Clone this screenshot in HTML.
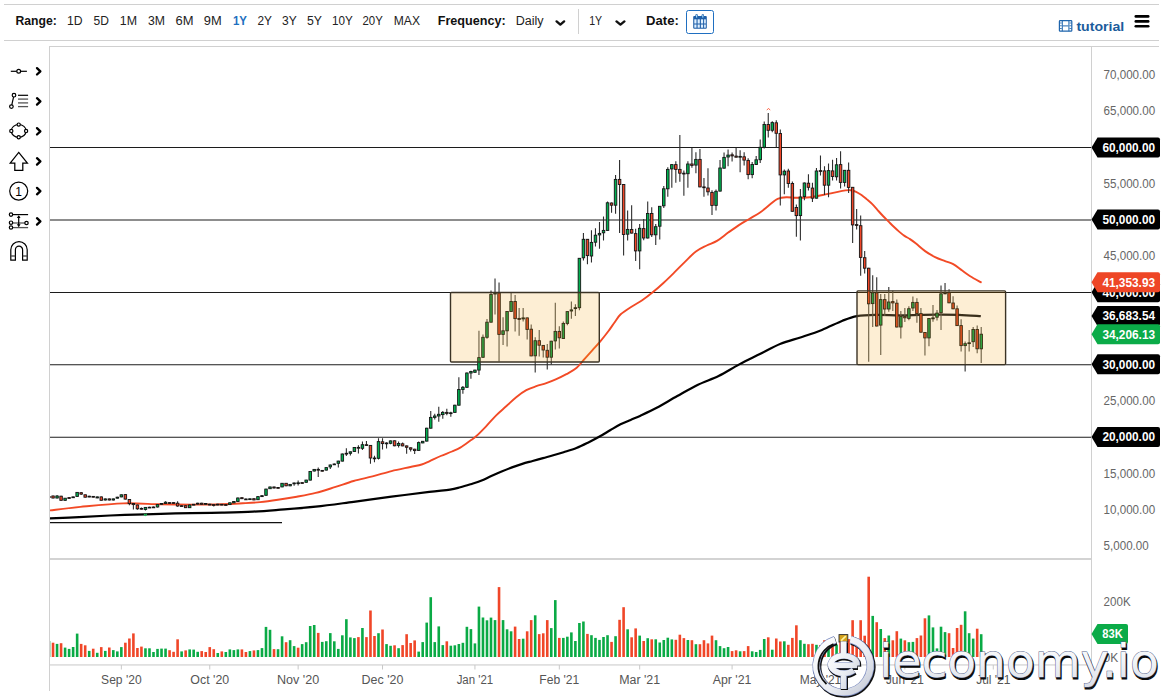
<!DOCTYPE html>
<html><head><meta charset="utf-8"><title>Chart</title>
<style>
html,body{margin:0;padding:0;background:#fff;}
body{width:1162px;height:698px;overflow:hidden;position:relative;font-family:"Liberation Sans",Arial,sans-serif;}
svg.main{position:absolute;left:0;top:0;display:block;}
svg text{font-family:"Liberation Sans",Arial,sans-serif;}
</style></head>
<body>
<svg class="main" width="1162" height="698" viewBox="0 0 1162 698">
<rect x="4" y="4" width="1155" height="1" fill="#d0d0d0"/>
<rect x="4" y="40" width="1155" height="1" fill="#d0d0d0"/>
<rect x="49" y="46" width="1110" height="1" fill="#d0d0d0"/>
<rect x="49" y="46" width="1" height="645" fill="#d0d0d0"/>
<rect x="1091" y="47" width="1" height="618" fill="#d0d0d0"/>
<rect x="50" y="558" width="1041" height="2" fill="#d3d3d3"/>
<rect x="50" y="664" width="1041" height="1.8" fill="#e0e0e0"/>
<text x="15.5" y="25" font-size="12.5" font-weight="bold" fill="#111" text-anchor="start" textLength="41.3" lengthAdjust="spacingAndGlyphs">Range:</text>
<text x="67" y="25" font-size="12.5" font-weight="normal" fill="#222" text-anchor="start" textLength="15.6" lengthAdjust="spacingAndGlyphs">1D</text>
<text x="93.6" y="25" font-size="12.5" font-weight="normal" fill="#222" text-anchor="start" textLength="15.4" lengthAdjust="spacingAndGlyphs">5D</text>
<text x="119.8" y="25" font-size="12.5" font-weight="normal" fill="#222" text-anchor="start" textLength="17.2" lengthAdjust="spacingAndGlyphs">1M</text>
<text x="148" y="25" font-size="12.5" font-weight="normal" fill="#222" text-anchor="start" textLength="17" lengthAdjust="spacingAndGlyphs">3M</text>
<text x="175.5" y="25" font-size="12.5" font-weight="normal" fill="#222" text-anchor="start" textLength="18" lengthAdjust="spacingAndGlyphs">6M</text>
<text x="203.8" y="25" font-size="12.5" font-weight="normal" fill="#222" text-anchor="start" textLength="17.9" lengthAdjust="spacingAndGlyphs">9M</text>
<text x="233" y="25" font-size="12.5" font-weight="bold" fill="#1e6fc0" text-anchor="start" textLength="14" lengthAdjust="spacingAndGlyphs">1Y</text>
<text x="257.5" y="25" font-size="12.5" font-weight="normal" fill="#222" text-anchor="start" textLength="14.5" lengthAdjust="spacingAndGlyphs">2Y</text>
<text x="282" y="25" font-size="12.5" font-weight="normal" fill="#222" text-anchor="start" textLength="14.7" lengthAdjust="spacingAndGlyphs">3Y</text>
<text x="307" y="25" font-size="12.5" font-weight="normal" fill="#222" text-anchor="start" textLength="15" lengthAdjust="spacingAndGlyphs">5Y</text>
<text x="332" y="25" font-size="12.5" font-weight="normal" fill="#222" text-anchor="start" textLength="20.8" lengthAdjust="spacingAndGlyphs">10Y</text>
<text x="362.5" y="25" font-size="12.5" font-weight="normal" fill="#222" text-anchor="start" textLength="20.3" lengthAdjust="spacingAndGlyphs">20Y</text>
<text x="393.8" y="25" font-size="12.5" font-weight="normal" fill="#222" text-anchor="start" textLength="26.2" lengthAdjust="spacingAndGlyphs">MAX</text>
<text x="437.7" y="25" font-size="12.5" font-weight="bold" fill="#111" text-anchor="start" textLength="68" lengthAdjust="spacingAndGlyphs">Frequency:</text>
<text x="515.7" y="25" font-size="12.5" font-weight="normal" fill="#222" text-anchor="start" textLength="27.9" lengthAdjust="spacingAndGlyphs">Daily</text>
<polyline points="556.6,21.4 560.35,24.6 564.1,21.4" fill="none" stroke="#111" stroke-width="2.4" stroke-linecap="round" stroke-linejoin="round"/>
<rect x="578" y="9" width="1" height="25" fill="#d0d0d0"/>
<text x="589.2" y="25" font-size="12.5" font-weight="normal" fill="#222" text-anchor="start" textLength="12.9" lengthAdjust="spacingAndGlyphs">1Y</text>
<polyline points="616.5,21.4 620.45,24.6 624.4,21.4" fill="none" stroke="#111" stroke-width="2.4" stroke-linecap="round" stroke-linejoin="round"/>
<text x="646" y="25" font-size="12.5" font-weight="bold" fill="#111" text-anchor="start" textLength="32.8" lengthAdjust="spacingAndGlyphs">Date:</text>
<rect x="686.5" y="10.5" width="27" height="23" rx="2" fill="#fff" stroke="#1f6fc1" stroke-width="1"/>
<g fill="#1f5fa8"><rect x="693.2" y="16" width="13.6" height="12.8" rx="1"/></g>
<g fill="#dff0ff"><rect x="694.3" y="19.3" width="2.2" height="4.2"/><rect x="697.6" y="19.3" width="2.2" height="4.2"/><rect x="700.9" y="19.3" width="2.2" height="4.2"/><rect x="704.1" y="19.3" width="1.7" height="4.2"/><rect x="694.3" y="24.5" width="2.2" height="3.2"/><rect x="697.6" y="24.5" width="2.2" height="3.2"/><rect x="700.9" y="24.5" width="2.2" height="3.2"/><rect x="704.1" y="24.5" width="1.7" height="3.2"/></g>
<g fill="#1f5fa8"><rect x="695.4" y="14.3" width="2.4" height="3.6" rx="0.8"/><rect x="701.6" y="14.3" width="2.4" height="3.6" rx="0.8"/></g>
<g fill="#9fd4f5"><rect x="696" y="15" width="1.2" height="2.6"/><rect x="702.2" y="15" width="1.2" height="2.6"/></g>
<rect x="1059.4" y="20.6" width="12.4" height="10.6" rx="0.8" fill="none" stroke="#1f65ad" stroke-width="1.2"/>
<g fill="#1f65ad"><rect x="1061.8" y="20.6" width="1" height="10.6"/><rect x="1068.4" y="20.6" width="1" height="10.6"/><rect x="1062.8" y="25.4" width="5.6" height="1"/></g>
<g fill="#1f65ad"><rect x="1059.6" y="22.6" width="2.2" height="0.8"/><rect x="1059.6" y="25.4" width="2.2" height="0.8"/><rect x="1059.6" y="28.2" width="2.2" height="0.8"/><rect x="1069.4" y="22.6" width="2.2" height="0.8"/><rect x="1069.4" y="25.4" width="2.2" height="0.8"/><rect x="1069.4" y="28.2" width="2.2" height="0.8"/></g>
<text x="1076.4" y="30.6" font-size="13.5" font-weight="bold" fill="#1b5c9c" text-anchor="start" textLength="47.9" lengthAdjust="spacingAndGlyphs">tutorial</text>
<g stroke="#000" stroke-width="2.6" stroke-linecap="round"><line x1="1135.8" y1="16.4" x2="1148.2" y2="16.4"/><line x1="1135.8" y1="21.4" x2="1148.2" y2="21.4"/><line x1="1135.8" y1="26.3" x2="1148.2" y2="26.3"/></g>
<g><line x1="10.8" y1="71.3" x2="26.9" y2="71.3" stroke="#000" stroke-width="1.2"/><circle cx="18.7" cy="71.3" r="1.9" fill="#fff" stroke="#000" stroke-width="1.2"/><polyline points="37,68.1 40.4,71.3 37,74.5" fill="none" stroke="#000" stroke-width="2.3" stroke-linecap="round" stroke-linejoin="round"/><line x1="14" y1="95.2" x2="11.4" y2="106.6" stroke="#000" stroke-width="1.2"/><circle cx="14" cy="95.2" r="1.8" fill="#fff" stroke="#000" stroke-width="1.2"/><circle cx="11.4" cy="106.6" r="1.8" fill="#fff" stroke="#000" stroke-width="1.2"/><line x1="18" y1="95.3" x2="28.1" y2="95.3" stroke="#000" stroke-width="1.2"/><g stroke="#555" stroke-width="1.3"><line x1="18" y1="99.1" x2="28.1" y2="99.1"/><line x1="18" y1="102.9" x2="28.1" y2="102.9"/><line x1="18" y1="106.6" x2="28.1" y2="106.6"/></g><polyline points="37,98.2 40.4,101.4 37,104.6" fill="none" stroke="#000" stroke-width="2.3" stroke-linecap="round" stroke-linejoin="round"/><ellipse cx="18.7" cy="130.9" rx="7.4" ry="6.4" fill="none" stroke="#000" stroke-width="1.2"/><circle cx="18.7" cy="124.6" r="1.6" fill="#fff" stroke="#000" stroke-width="1.2"/><circle cx="18.7" cy="137.3" r="1.6" fill="#fff" stroke="#000" stroke-width="1.2"/><circle cx="11.3" cy="130.9" r="1.6" fill="#fff" stroke="#000" stroke-width="1.2"/><circle cx="26.1" cy="130.9" r="1.6" fill="#fff" stroke="#000" stroke-width="1.2"/><polyline points="37,128.1 40.4,131.3 37,134.5" fill="none" stroke="#000" stroke-width="2.3" stroke-linecap="round" stroke-linejoin="round"/><polygon points="18.7,152.4 27.4,163.2 22.8,163.2 22.8,170.3 14.8,170.3 14.8,163.2 10.2,163.2" fill="#fff" stroke="#000" stroke-width="1.25" stroke-linejoin="miter"/><polyline points="37,158.2 40.4,161.4 37,164.6" fill="none" stroke="#000" stroke-width="2.3" stroke-linecap="round" stroke-linejoin="round"/><circle cx="18.7" cy="191.1" r="9" fill="#fff" stroke="#000" stroke-width="1.2"/><text x="18.7" y="195.6" font-size="12" font-weight="normal" fill="#000" text-anchor="middle">1</text><polyline points="37,187.9 40.4,191.1 37,194.3" fill="none" stroke="#000" stroke-width="2.3" stroke-linecap="round" stroke-linejoin="round"/><line x1="12.5" y1="214.6" x2="28.1" y2="214.6" stroke="#000" stroke-width="1.2"/><g stroke="#555" stroke-width="1.3"><line x1="12.5" y1="223" x2="25" y2="223"/><line x1="12.5" y1="227.6" x2="28.1" y2="227.6"/></g><line x1="18.7" y1="216" x2="18.7" y2="226.4" stroke="#000" stroke-width="1.2"/><polygon points="18.7,215.2 16.8,218 20.6,218" fill="#000"/><polygon points="18.7,227 16.8,224.2 20.6,224.2" fill="#000"/><circle cx="11" cy="214.6" r="1.7" fill="#fff" stroke="#000" stroke-width="1.2"/><circle cx="11" cy="222.7" r="1.7" fill="#fff" stroke="#000" stroke-width="1.2"/><circle cx="11" cy="227.5" r="1.7" fill="#fff" stroke="#000" stroke-width="1.2"/><circle cx="26.5" cy="223" r="1.7" fill="#fff" stroke="#000" stroke-width="1.2"/><polyline points="37,218.2 40.4,221.4 37,224.6" fill="none" stroke="#000" stroke-width="2.3" stroke-linecap="round" stroke-linejoin="round"/><path d="M10.8,260.2 L10.8,249.8 A8.2,8.2 0 0 1 27.2,249.8 L27.2,260.2 L22.6,260.2 L22.6,249.8 A3.6,3.6 0 0 0 15.4,249.8 L15.4,260.2 Z" fill="#fff" stroke="#000" stroke-width="1.2"/><g stroke="#444" stroke-width="1.3"><line x1="11" y1="256" x2="15.2" y2="256"/><line x1="22.8" y1="256" x2="27" y2="256"/></g></g>
<svg x="50" y="47" width="1041" height="511" viewBox="50 47 1041 511" overflow="hidden">
<line x1="50" y1="147.5" x2="1091" y2="147.5" stroke="#1c1c1c" stroke-width="1.05"/>
<line x1="50" y1="220.0" x2="1091" y2="220.0" stroke="#1c1c1c" stroke-width="1.05"/>
<line x1="50" y1="292.45" x2="1091" y2="292.45" stroke="#1c1c1c" stroke-width="1.05"/>
<line x1="50" y1="364.8" x2="1091" y2="364.8" stroke="#1c1c1c" stroke-width="1.05"/>
<line x1="50" y1="437.3" x2="1091" y2="437.3" stroke="#1c1c1c" stroke-width="1.05"/>
<line x1="50" y1="522.6" x2="282" y2="522.6" stroke="#111" stroke-width="1.2"/>
<path d="M50.1,518.4C54.92,518.18 69.02,517.58 79,517.1C88.98,516.62 99,515.97 110,515.5C121,515.03 135.33,514.62 145,514.3C154.67,513.98 160.33,513.78 168,513.6C175.67,513.42 182,513.37 191,513.2C200,513.03 211.67,512.87 222,512.6C232.33,512.33 243.67,512.05 253,511.6C262.33,511.15 267.55,510.72 278,509.9C288.45,509.08 303.1,508.05 315.7,506.7C328.3,505.35 340.97,503.47 353.6,501.8C366.23,500.13 378.88,498.35 391.5,496.7C404.12,495.05 419.55,493.07 429.3,491.9C439.05,490.73 444.83,490.47 450,489.7C455.17,488.93 456.85,488.22 460.3,487.3C463.75,486.38 467.25,485.28 470.7,484.2C474.15,483.12 477.57,482.17 481,480.8C484.43,479.43 487.87,477.55 491.3,476C494.73,474.45 498.15,472.93 501.6,471.5C505.05,470.07 508.55,468.67 512,467.4C515.45,466.13 518.87,464.97 522.3,463.9C525.73,462.83 529.15,461.97 532.6,461C536.05,460.03 539.55,459.05 543,458.1C546.45,457.15 549.87,456.28 553.3,455.3C556.73,454.32 559.75,453.42 563.6,452.2C567.45,450.98 572.27,449.63 576.4,448C580.53,446.37 584.38,444.4 588.4,442.4C592.42,440.4 596.82,438.07 600.5,436C604.18,433.93 607.17,431.95 610.5,430C613.83,428.05 617.15,425.98 620.5,424.3C623.85,422.62 627.35,421.3 630.6,419.9C633.85,418.5 635.65,417.92 640,415.9C644.35,413.88 650.48,411.12 656.7,407.8C662.92,404.48 670.42,399.85 677.3,396C684.18,392.15 691.12,388.03 698,384.7C704.88,381.37 711.72,379.38 718.6,376C725.48,372.62 732.42,368.05 739.3,364.4C746.18,360.75 753.02,357.53 759.9,354.1C766.78,350.67 773.72,346.62 780.6,343.8C787.48,340.98 794.32,339.52 801.2,337.2C808.08,334.88 815.02,332.65 821.9,329.9C828.78,327.15 836.65,323 842.5,320.7C848.35,318.4 851.42,317.07 857,316.1C862.58,315.13 868.83,315.03 876,314.9C883.17,314.77 892.67,315.3 900,315.3C907.33,315.3 913.87,315 920,314.9C926.13,314.8 930.35,314.7 936.8,314.7C943.25,314.7 951.37,314.65 958.7,314.9C966.03,315.15 977.12,315.98 980.8,316.2" fill="none" stroke="#000" stroke-width="2.2" stroke-linejoin="round" stroke-linecap="round"/>
<path d="M50.1,510.4C55.15,509.82 68.17,508.07 80.4,506.9C92.63,505.73 110.23,503.83 123.5,503.4C136.77,502.97 148.75,504.1 160,504.3C171.25,504.5 180.67,504.6 191,504.6C201.33,504.6 213.4,504.52 222,504.3C230.6,504.08 236.27,503.67 242.6,503.3C248.93,502.93 254.12,502.68 260,502.1C265.88,501.52 271.77,500.7 277.9,499.8C284.03,498.9 290.5,497.85 296.8,496.7C303.1,495.55 309.38,494.48 315.7,492.9C322.02,491.32 328.38,489.18 334.7,487.2C341.02,485.22 347.3,482.8 353.6,481C359.9,479.2 366.18,478.05 372.5,476.4C378.82,474.75 385.18,472.67 391.5,471.1C397.82,469.53 405.37,468.1 410.4,467C415.43,465.9 418.55,465.45 421.7,464.5C424.85,463.55 426.13,462.72 429.3,461.3C432.47,459.88 436.92,457.63 440.7,456C444.48,454.37 448.73,452.9 452,451.5C455.27,450.1 457.18,449.47 460.3,447.6C463.42,445.73 468.07,442.18 470.7,440.3C473.33,438.42 473.53,438.63 476.1,436.3C478.67,433.97 482.75,429.8 486.1,426.3C489.45,422.8 492.85,418.63 496.2,415.3C499.55,411.97 502.87,409.32 506.2,406.3C509.53,403.28 512.85,399.88 516.2,397.2C519.55,394.52 522.95,392.03 526.3,390.2C529.65,388.37 532.97,387.37 536.3,386.2C539.63,385.03 542.97,384.37 546.3,383.2C549.63,382.03 552.95,380.7 556.3,379.2C559.65,377.7 563.05,376.05 566.4,374.2C569.75,372.35 573.4,370.62 576.4,368.1C579.4,365.58 581.72,362.1 584.4,359.1C587.08,356.1 589.82,353.1 592.5,350.1C595.18,347.1 597.83,344.28 600.5,341.1C603.17,337.92 606.17,334.1 608.5,331C610.83,327.9 612.47,325.28 614.5,322.5C616.53,319.72 617.87,316.93 620.7,314.3C623.53,311.67 627.92,309.03 631.5,306.7C635.08,304.37 638.62,302.73 642.2,300.3C645.78,297.87 649.42,295.03 653,292.1C656.58,289.17 660.13,285.98 663.7,282.7C667.27,279.42 670.82,275.92 674.4,272.4C677.98,268.88 681.62,265.08 685.2,261.6C688.78,258.12 692.32,254.18 695.9,251.5C699.48,248.82 703.12,247.32 706.7,245.5C710.28,243.68 713.82,242.75 717.4,240.6C720.98,238.45 724.62,235.18 728.2,232.6C731.78,230.02 735.33,227.42 738.9,225.1C742.47,222.78 746.02,220.85 749.6,218.7C753.18,216.55 756.82,214.72 760.4,212.2C763.98,209.68 768.23,205.82 771.1,203.6C773.97,201.38 775.08,199.97 777.6,198.9C780.12,197.83 782.98,197.38 786.2,197.2C789.42,197.02 792.93,197.8 796.9,197.8C800.87,197.8 805.52,197.7 810,197.2C814.48,196.7 818.8,195.77 823.8,194.8C828.8,193.83 836.4,192.13 840,191.4C843.6,190.67 843.6,190.6 845.4,190.4C847.2,190.2 849.02,189.97 850.8,190.2C852.58,190.43 854.32,191 856.1,191.8C857.88,192.6 859.7,193.73 861.5,195C863.3,196.27 865.1,197.87 866.9,199.4C868.7,200.93 870.52,202.42 872.3,204.2C874.08,205.98 875.82,208.13 877.6,210.1C879.38,212.07 881.2,214.12 883,216C884.8,217.88 886.6,219.6 888.4,221.4C890.2,223.2 892.02,225.1 893.8,226.8C895.58,228.5 897.32,230.08 899.1,231.6C900.88,233.12 902.68,234.65 904.5,235.9C906.32,237.15 908.08,237.82 910,239.1C911.92,240.38 913.48,241.6 916,243.6C918.52,245.6 921.92,248.85 925.1,251.1C928.28,253.35 931.77,255.43 935.1,257.1C938.43,258.77 942.08,259.93 945.1,261.1C948.12,262.27 950.35,262.52 953.2,264.1C956.05,265.68 959.37,268.58 962.2,270.6C965.03,272.62 967.1,274.27 970.2,276.2C973.3,278.13 979.03,281.2 980.8,282.2" fill="none" stroke="#f24a26" stroke-width="1.9" stroke-linejoin="round" stroke-linecap="round"/>
<path d="M49.03,496V498.2M53.04,495.5V498.6M57.06,495V498.5M61.08,495.8V500.8M65.1,498V501M69.12,497V499M73.13,496.5V497.8M77.15,492V497M81.17,492V495M85.19,494.5V497.5M89.21,495.8V497.3M93.22,496V497.5M97.24,496.5V498.3M101.26,496.5V500.6M105.28,498.5V500.4M109.3,498.5V500.4M113.31,498.5V500.4M117.33,496.8V498.6M121.35,494.4V497.3M125.37,494.2V499.5M129.39,499.2V505.3M133.4,503.2V509.4M137.42,504.6V509.8M141.44,507.4V509.6M145.46,507V510.5M149.48,506.8V508.1M153.49,506.6V507.9M157.51,504.2V507.4M161.53,503.1V504.5M165.55,501.2V503.9M169.57,502.2V503.6M173.58,502.2V503.6M177.6,501.2V506.7M181.62,505.3V506.6M185.64,505.3V508.1M189.66,504.6V508.1M193.67,503.9V505.2M197.69,502.8V504.5M201.71,502.8V504.7M205.73,503.1V504.4M209.75,503.8V505.3M213.76,504.2V506.6M217.78,503.8V505.3M221.8,503.9V505.2M225.82,504.2V505.5M229.84,502.4V505M233.85,501.1V503.2M237.87,497.6V501.9M241.89,497.3V499.1M245.91,498.6V500M249.93,498.4V499.7M253.94,498.3V500.3M257.96,496.2V500.1M261.98,495.3V497M266,488.7V495.7M270.02,486.6V489.1M274.03,486.6V488.4M278.05,487.1V488.4M282.07,482.9V487.3M286.09,482.9V486.2M290.11,484V486.2M294.12,482.6V485.8M298.14,480.5V485.5M302.16,482.2V483.7M306.18,479.7V482.7M310.2,471.1V480.5M314.21,469V471.4M318.23,467.6V476.9M322.25,470V471.4M326.27,467.2V470.5M330.29,464.6V469M334.3,463.6V464.9M338.32,460.7V467.6M342.34,453.6V461.5M346.36,448.2V456.1M350.38,451.4V455.4M354.39,447.1V451.9M358.41,445.2V453.6M362.43,441.5V450.1M366.45,441.1V446.1M370.47,445V463.7M374.48,455.8V462.2M378.5,438.3V459.4M382.52,438.3V449.4M386.54,442.2V448.6M390.56,440.5V444.3M394.57,440.4V446.2M398.59,441.5V447.6M402.61,442.6V446.3M406.63,445.4V453.7M410.65,447.4V451.5M414.66,448.8V454M418.68,441.5V450.8M422.7,440.9V443.3M426.72,427.8V441.5M430.74,411V428.6M434.75,413.8V419.6M438.77,406.7V421.7M442.79,411V418.8M446.81,408.8V415.3M450.83,411.7V416.7M454.84,404.8V412.8M458.86,377.3V405.6M462.88,385.9V393.8M466.9,372.6V387.7M470.92,370.8V378.7M474.93,369.7V372.7M478.95,330.7V375.1M482.97,334.6V357.7M486.99,318.9V338.7M491.01,290.6V322.6M495.02,278.6V314.4M499.04,282.5V361.6M503.06,317.2V345.1M507.08,311.1V346.6M511.1,292.9V311.9M515.11,295V331.5M519.13,307.9V335.8M523.15,307.9V321.5M527.17,317.5V339.4M531.19,324.4V356.3M535.2,337.2V372.5M539.22,330.1V356.5M543.24,345V357.5M547.26,344.1V369.4M551.28,340.8V364.5M555.29,302.7V349.5M559.31,326.3V348.4M563.33,321.5V338.9M567.35,311.2V325.3M571.37,301.6V318.8M575.38,304.3V316.1M579.4,257.9V310.2M583.42,233.1V260.5M587.44,238.9V264.2M591.46,230.2V262.6M595.47,228.2V246.5M599.49,222V248.7M603.51,216.5V240.6M607.53,201.4V230.8M611.55,202.6V212.7M615.56,175.1V213.8M619.58,160V233.1M623.6,184.1V255.6M627.62,210.5V240.6M631.64,205.2V233.5M635.65,228.8V261M639.67,224V269.2M643.69,219.1V240.2M647.71,201.4V238.4M651.73,207.3V237M655.74,224V245M659.76,205.9V239.6M663.78,186.1V207.9M667.8,167.2V196.8M671.82,164.2V187.7M675.83,161.3V182.8M679.85,135V181.8M683.87,170.5V195.7M687.89,161.3V187.7M691.91,147.9V167.8M695.92,152.2V173.2M699.94,149V187.3M703.96,178V196.8M707.98,168.3V195.5M712,190.3V215M716.01,189.5V210.4M720.03,159.9V191.5M724.05,152.4V168.6M728.07,149.5V166.3M732.09,152.4V161.5M736.1,147.7V157.6M740.12,150.2V172.3M744.14,152.3V165.6M748.16,158.3V179.2M752.18,162V178.2M756.19,155.9V164.9M760.21,139.6V162.9M764.23,121.5V148.4M768.25,113.1V137.4M772.27,121.3V132.3M776.28,120.2V147.3M780.3,129.6V205.6M784.32,169.6V194.3M788.34,168.8V187.8M792.36,181.4V211.7M796.37,204.4V236.8M800.39,188.9V240.5M804.41,182.6V200.2M808.43,174.2V190.5M812.45,182.8V201.9M816.46,167.9V198.6M820.48,155.4V175.5M824.5,166.2V194.9M828.52,163.6V197.3M832.54,159.7V180.4M836.55,157.9V180.4M840.57,151.2V188.5M844.59,170V186.4M848.61,162.4V193.1M852.63,186.9V243.1M856.64,209V229.5M860.66,215.5V275.7M864.68,251V273.5M868.7,267.8V361.7M872.72,275.2V327M876.73,277.3V326.4M880.75,294V355M884.77,294V316M888.79,287V311.8M892.81,290.8V311M896.82,299.4V327.4M900.84,311V338.5M904.86,308V322M908.88,306.3V320.3M912.9,296.5V311M916.91,298.3V322.7M920.93,308.1V332.6M924.95,332.1V355.4M928.97,318.1V346.2M932.99,305V321.7M937,310.1V320.5M941.02,285.5V330.1M945.04,283.1V294.2M949.06,289.3V303.2M953.08,296.3V309.2M957.09,305.6V326M961.11,319.2V351.4M965.13,341.5V371.6M969.15,330.1V351.4M973.17,326.9V346.9M977.18,325.6V353.3M981.2,326.9V363" stroke="#2e2e2e" stroke-width="1.1" fill="none"/><g stroke="#141414" stroke-width="0.9"><rect x="47.78" y="496.6" width="2.5" height="0.8" fill="#f04628"/><rect x="51.79" y="496" width="2.5" height="2" fill="#f04628"/><rect x="55.81" y="496" width="2.5" height="2" fill="#00b050"/><rect x="59.83" y="496.2" width="2.5" height="4.1" fill="#f04628"/><rect x="63.85" y="498.2" width="2.5" height="2.1" fill="#00b050"/><rect x="67.87" y="497.6" width="2.5" height="0.8" fill="#f04628"/><rect x="71.88" y="496.9" width="2.5" height="0.8" fill="#00b050"/><rect x="75.9" y="492.4" width="2.5" height="4" fill="#00b050"/><rect x="79.92" y="492.7" width="2.5" height="1.4" fill="#f04628"/><rect x="83.94" y="494.8" width="2.5" height="2.4" fill="#f04628"/><rect x="87.96" y="496.2" width="2.5" height="0.8" fill="#00b050"/><rect x="91.97" y="496.4" width="2.5" height="0.8" fill="#f04628"/><rect x="95.99" y="496.9" width="2.5" height="1" fill="#00b050"/><rect x="100.01" y="496.9" width="2.5" height="3.4" fill="#f04628"/><rect x="104.03" y="498.9" width="2.5" height="1.1" fill="#00b050"/><rect x="108.05" y="498.9" width="2.5" height="1.1" fill="#f04628"/><rect x="112.06" y="498.9" width="2.5" height="1.1" fill="#00b050"/><rect x="116.08" y="497.2" width="2.5" height="1" fill="#00b050"/><rect x="120.1" y="494.8" width="2.5" height="2.1" fill="#00b050"/><rect x="124.12" y="494.6" width="2.5" height="4.5" fill="#f04628"/><rect x="128.14" y="499.5" width="2.5" height="4.1" fill="#f04628"/><rect x="132.15" y="503.5" width="2.5" height="1.1" fill="#f04628"/><rect x="136.17" y="505" width="2.5" height="3.8" fill="#f04628"/><rect x="140.19" y="508.4" width="2.5" height="0.8" fill="#f04628"/><rect x="144.21" y="507.4" width="2.5" height="2" fill="#00b050"/><rect x="148.23" y="507.2" width="2.5" height="0.8" fill="#00b050"/><rect x="152.24" y="507" width="2.5" height="0.8" fill="#00b050"/><rect x="156.26" y="504.6" width="2.5" height="2.4" fill="#00b050"/><rect x="160.28" y="503.5" width="2.5" height="0.8" fill="#00b050"/><rect x="164.3" y="502.2" width="2.5" height="1.3" fill="#00b050"/><rect x="168.32" y="502.6" width="2.5" height="0.8" fill="#f04628"/><rect x="172.33" y="502.6" width="2.5" height="0.8" fill="#f04628"/><rect x="176.35" y="503.2" width="2.5" height="2.8" fill="#f04628"/><rect x="180.37" y="505.7" width="2.5" height="0.8" fill="#f04628"/><rect x="184.39" y="505.7" width="2.5" height="2" fill="#f04628"/><rect x="188.41" y="505" width="2.5" height="2.7" fill="#00b050"/><rect x="192.42" y="504.3" width="2.5" height="0.8" fill="#00b050"/><rect x="196.44" y="503.2" width="2.5" height="0.9" fill="#00b050"/><rect x="200.46" y="503.2" width="2.5" height="1.1" fill="#f04628"/><rect x="204.48" y="503.5" width="2.5" height="0.8" fill="#00b050"/><rect x="208.5" y="504.2" width="2.5" height="0.8" fill="#f04628"/><rect x="212.51" y="504.6" width="2.5" height="0.8" fill="#f04628"/><rect x="216.53" y="504.2" width="2.5" height="0.8" fill="#00b050"/><rect x="220.55" y="504.3" width="2.5" height="0.8" fill="#f04628"/><rect x="224.57" y="504.6" width="2.5" height="0.8" fill="#f04628"/><rect x="228.59" y="502.8" width="2.5" height="1.8" fill="#00b050"/><rect x="232.6" y="501.5" width="2.5" height="1.3" fill="#00b050"/><rect x="236.62" y="498" width="2.5" height="3.5" fill="#00b050"/><rect x="240.64" y="497.7" width="2.5" height="1" fill="#f04628"/><rect x="244.66" y="499" width="2.5" height="0.8" fill="#f04628"/><rect x="248.68" y="498.8" width="2.5" height="0.8" fill="#00b050"/><rect x="252.69" y="498.7" width="2.5" height="1.2" fill="#f04628"/><rect x="256.71" y="496.6" width="2.5" height="3.1" fill="#00b050"/><rect x="260.73" y="495.7" width="2.5" height="0.9" fill="#00b050"/><rect x="264.75" y="489.1" width="2.5" height="6.2" fill="#00b050"/><rect x="268.77" y="487" width="2.5" height="1.7" fill="#00b050"/><rect x="272.78" y="487" width="2.5" height="1" fill="#f04628"/><rect x="276.8" y="487.5" width="2.5" height="0.8" fill="#f04628"/><rect x="280.82" y="483.3" width="2.5" height="3.6" fill="#00b050"/><rect x="284.84" y="483.3" width="2.5" height="2.5" fill="#f04628"/><rect x="288.86" y="484.4" width="2.5" height="1.4" fill="#00b050"/><rect x="292.87" y="483" width="2.5" height="0.8" fill="#00b050"/><rect x="296.89" y="482.8" width="2.5" height="0.8" fill="#00b050"/><rect x="300.91" y="482.6" width="2.5" height="0.8" fill="#f04628"/><rect x="304.93" y="480.1" width="2.5" height="2.2" fill="#00b050"/><rect x="308.95" y="471.5" width="2.5" height="8.6" fill="#00b050"/><rect x="312.96" y="469.4" width="2.5" height="1.6" fill="#00b050"/><rect x="316.98" y="469.4" width="2.5" height="0.8" fill="#f04628"/><rect x="321" y="470.4" width="2.5" height="0.8" fill="#f04628"/><rect x="325.02" y="467.6" width="2.5" height="2.5" fill="#00b050"/><rect x="329.04" y="465" width="2.5" height="1.9" fill="#00b050"/><rect x="333.05" y="464" width="2.5" height="0.8" fill="#00b050"/><rect x="337.07" y="461.1" width="2.5" height="2.2" fill="#00b050"/><rect x="341.09" y="454" width="2.5" height="7.1" fill="#00b050"/><rect x="345.11" y="453.3" width="2.5" height="0.8" fill="#f04628"/><rect x="349.13" y="451.8" width="2.5" height="1.5" fill="#00b050"/><rect x="353.14" y="447.5" width="2.5" height="4" fill="#00b050"/><rect x="357.16" y="447.4" width="2.5" height="0.8" fill="#f04628"/><rect x="361.18" y="444.7" width="2.5" height="3.6" fill="#00b050"/><rect x="365.2" y="444.7" width="2.5" height="0.8" fill="#f04628"/><rect x="369.22" y="445.4" width="2.5" height="12.6" fill="#f04628"/><rect x="373.23" y="458" width="2.5" height="0.8" fill="#00b050"/><rect x="377.25" y="441.6" width="2.5" height="16.7" fill="#00b050"/><rect x="381.27" y="441.8" width="2.5" height="1.8" fill="#f04628"/><rect x="385.29" y="443" width="2.5" height="0.8" fill="#00b050"/><rect x="389.31" y="440.9" width="2.5" height="2.4" fill="#00b050"/><rect x="393.32" y="440.8" width="2.5" height="5" fill="#f04628"/><rect x="397.34" y="443.5" width="2.5" height="1.9" fill="#00b050"/><rect x="401.36" y="443.8" width="2.5" height="2.1" fill="#f04628"/><rect x="405.38" y="445.9" width="2.5" height="1.4" fill="#f04628"/><rect x="409.4" y="447.8" width="2.5" height="1.4" fill="#f04628"/><rect x="413.41" y="449.2" width="2.5" height="1.4" fill="#f04628"/><rect x="417.43" y="442.6" width="2.5" height="7.8" fill="#00b050"/><rect x="421.45" y="441.3" width="2.5" height="1.6" fill="#00b050"/><rect x="425.47" y="428.2" width="2.5" height="12.9" fill="#00b050"/><rect x="429.49" y="417.4" width="2.5" height="10.8" fill="#00b050"/><rect x="433.5" y="416" width="2.5" height="1.4" fill="#00b050"/><rect x="437.52" y="414.3" width="2.5" height="1.7" fill="#00b050"/><rect x="441.54" y="412.4" width="2.5" height="2.2" fill="#00b050"/><rect x="445.56" y="412.4" width="2.5" height="1" fill="#f04628"/><rect x="449.58" y="412.8" width="2.5" height="0.8" fill="#00b050"/><rect x="453.59" y="405.2" width="2.5" height="7.2" fill="#00b050"/><rect x="457.61" y="389.5" width="2.5" height="15.7" fill="#00b050"/><rect x="461.63" y="387.3" width="2.5" height="2.2" fill="#00b050"/><rect x="465.65" y="373" width="2.5" height="14.3" fill="#00b050"/><rect x="469.67" y="371.5" width="2.5" height="1.5" fill="#00b050"/><rect x="473.68" y="370.1" width="2.5" height="2.2" fill="#00b050"/><rect x="477.7" y="357.6" width="2.5" height="12.5" fill="#00b050"/><rect x="481.72" y="337.3" width="2.5" height="20" fill="#00b050"/><rect x="485.74" y="322.2" width="2.5" height="15.1" fill="#00b050"/><rect x="489.76" y="294.4" width="2.5" height="27.8" fill="#00b050"/><rect x="493.77" y="292.9" width="2.5" height="1.1" fill="#00b050"/><rect x="497.79" y="292.9" width="2.5" height="41.5" fill="#f04628"/><rect x="501.81" y="330.8" width="2.5" height="3.6" fill="#00b050"/><rect x="505.83" y="311.5" width="2.5" height="19.3" fill="#00b050"/><rect x="509.85" y="301.5" width="2.5" height="10" fill="#00b050"/><rect x="513.86" y="301.5" width="2.5" height="17.1" fill="#f04628"/><rect x="517.88" y="318.4" width="2.5" height="1" fill="#f04628"/><rect x="521.9" y="317.9" width="2.5" height="1" fill="#00b050"/><rect x="525.92" y="317.9" width="2.5" height="11.5" fill="#f04628"/><rect x="529.94" y="329.2" width="2.5" height="26.7" fill="#f04628"/><rect x="533.95" y="340.7" width="2.5" height="15.1" fill="#00b050"/><rect x="537.97" y="340.7" width="2.5" height="4.5" fill="#f04628"/><rect x="541.99" y="345.4" width="2.5" height="4.6" fill="#f04628"/><rect x="546.01" y="350.3" width="2.5" height="6.9" fill="#f04628"/><rect x="550.03" y="341.2" width="2.5" height="16" fill="#00b050"/><rect x="554.04" y="331.4" width="2.5" height="9.5" fill="#00b050"/><rect x="558.06" y="331.4" width="2.5" height="6.4" fill="#f04628"/><rect x="562.08" y="323.4" width="2.5" height="15.1" fill="#00b050"/><rect x="566.1" y="311.6" width="2.5" height="11.8" fill="#00b050"/><rect x="570.12" y="309.9" width="2.5" height="1.1" fill="#00b050"/><rect x="574.13" y="307.7" width="2.5" height="0.9" fill="#00b050"/><rect x="578.15" y="258.3" width="2.5" height="49.4" fill="#00b050"/><rect x="582.17" y="239.3" width="2.5" height="18.5" fill="#00b050"/><rect x="586.19" y="239.3" width="2.5" height="16.3" fill="#f04628"/><rect x="590.21" y="242.4" width="2.5" height="13.6" fill="#00b050"/><rect x="594.22" y="235.2" width="2.5" height="7" fill="#00b050"/><rect x="598.24" y="233.4" width="2.5" height="1.5" fill="#00b050"/><rect x="602.26" y="230.4" width="2.5" height="2.4" fill="#00b050"/><rect x="606.28" y="202.8" width="2.5" height="27.6" fill="#00b050"/><rect x="610.3" y="203" width="2.5" height="2.2" fill="#f04628"/><rect x="614.31" y="179.4" width="2.5" height="25.8" fill="#00b050"/><rect x="618.33" y="179.4" width="2.5" height="5.1" fill="#f04628"/><rect x="622.35" y="184.5" width="2.5" height="50" fill="#f04628"/><rect x="626.37" y="229.4" width="2.5" height="4.8" fill="#00b050"/><rect x="630.39" y="229.5" width="2.5" height="3.6" fill="#f04628"/><rect x="634.4" y="233.6" width="2.5" height="17.3" fill="#f04628"/><rect x="638.42" y="228.3" width="2.5" height="22.6" fill="#00b050"/><rect x="642.44" y="228.6" width="2.5" height="9.4" fill="#f04628"/><rect x="646.46" y="213.5" width="2.5" height="24.5" fill="#00b050"/><rect x="650.48" y="213.5" width="2.5" height="21.3" fill="#f04628"/><rect x="654.49" y="226.7" width="2.5" height="8.1" fill="#00b050"/><rect x="658.51" y="206.3" width="2.5" height="19.9" fill="#00b050"/><rect x="662.53" y="188.8" width="2.5" height="17" fill="#00b050"/><rect x="666.55" y="169.4" width="2.5" height="19.4" fill="#00b050"/><rect x="670.57" y="164.6" width="2.5" height="4.3" fill="#00b050"/><rect x="674.58" y="164.6" width="2.5" height="4.8" fill="#f04628"/><rect x="678.6" y="169.4" width="2.5" height="3.8" fill="#f04628"/><rect x="682.62" y="173.2" width="2.5" height="0.8" fill="#f04628"/><rect x="686.64" y="164" width="2.5" height="9.7" fill="#00b050"/><rect x="690.66" y="164" width="2.5" height="1.4" fill="#f04628"/><rect x="694.67" y="159.4" width="2.5" height="5.7" fill="#00b050"/><rect x="698.69" y="159.4" width="2.5" height="27.5" fill="#f04628"/><rect x="702.71" y="186.9" width="2.5" height="0.8" fill="#f04628"/><rect x="706.73" y="188" width="2.5" height="3.8" fill="#f04628"/><rect x="710.75" y="192.4" width="2.5" height="13" fill="#f04628"/><rect x="714.76" y="191.3" width="2.5" height="14.1" fill="#00b050"/><rect x="718.78" y="168" width="2.5" height="23.1" fill="#00b050"/><rect x="722.8" y="157.4" width="2.5" height="10.8" fill="#00b050"/><rect x="726.82" y="155.1" width="2.5" height="1.9" fill="#00b050"/><rect x="730.84" y="154.8" width="2.5" height="1.1" fill="#f04628"/><rect x="734.85" y="156.1" width="2.5" height="1.1" fill="#f04628"/><rect x="738.87" y="156.4" width="2.5" height="0.8" fill="#00b050"/><rect x="742.89" y="156.8" width="2.5" height="3.3" fill="#f04628"/><rect x="746.91" y="160.4" width="2.5" height="14.2" fill="#f04628"/><rect x="750.93" y="164.5" width="2.5" height="10.1" fill="#00b050"/><rect x="754.94" y="159.8" width="2.5" height="4.7" fill="#00b050"/><rect x="758.96" y="147.3" width="2.5" height="12.4" fill="#00b050"/><rect x="762.98" y="124.5" width="2.5" height="22.8" fill="#00b050"/><rect x="767" y="124.5" width="2.5" height="5.8" fill="#f04628"/><rect x="771.02" y="122.6" width="2.5" height="7.7" fill="#00b050"/><rect x="775.03" y="122.8" width="2.5" height="10.5" fill="#f04628"/><rect x="779.05" y="133.5" width="2.5" height="41.4" fill="#f04628"/><rect x="783.07" y="171.2" width="2.5" height="3.7" fill="#00b050"/><rect x="787.09" y="171" width="2.5" height="12.5" fill="#f04628"/><rect x="791.11" y="183.5" width="2.5" height="27.8" fill="#f04628"/><rect x="795.12" y="207.5" width="2.5" height="8.1" fill="#f04628"/><rect x="799.14" y="197" width="2.5" height="18.6" fill="#00b050"/><rect x="803.16" y="183" width="2.5" height="13.5" fill="#00b050"/><rect x="807.18" y="183.2" width="2.5" height="4.1" fill="#f04628"/><rect x="811.2" y="188.1" width="2.5" height="10.1" fill="#f04628"/><rect x="815.21" y="171" width="2.5" height="27.2" fill="#00b050"/><rect x="819.23" y="170.6" width="2.5" height="0.8" fill="#f04628"/><rect x="823.25" y="170.9" width="2.5" height="14.3" fill="#f04628"/><rect x="827.27" y="170.6" width="2.5" height="14.6" fill="#00b050"/><rect x="831.29" y="170.9" width="2.5" height="5.6" fill="#f04628"/><rect x="835.3" y="164.8" width="2.5" height="12" fill="#00b050"/><rect x="839.32" y="164.6" width="2.5" height="17.8" fill="#f04628"/><rect x="843.34" y="170.3" width="2.5" height="12.1" fill="#00b050"/><rect x="847.36" y="170.3" width="2.5" height="17.1" fill="#f04628"/><rect x="851.38" y="187.3" width="2.5" height="37.6" fill="#f04628"/><rect x="855.39" y="224.6" width="2.5" height="0.8" fill="#f04628"/><rect x="859.41" y="225.7" width="2.5" height="31.7" fill="#f04628"/><rect x="863.43" y="257.7" width="2.5" height="10.5" fill="#f04628"/><rect x="867.45" y="268.2" width="2.5" height="35.6" fill="#f04628"/><rect x="871.47" y="292.9" width="2.5" height="10.7" fill="#00b050"/><rect x="875.48" y="292.9" width="2.5" height="33.1" fill="#f04628"/><rect x="879.5" y="299.6" width="2.5" height="25.5" fill="#00b050"/><rect x="883.52" y="299.6" width="2.5" height="9.4" fill="#f04628"/><rect x="887.54" y="302" width="2.5" height="7" fill="#00b050"/><rect x="891.56" y="301.6" width="2.5" height="1.3" fill="#f04628"/><rect x="895.57" y="303.2" width="2.5" height="23.8" fill="#f04628"/><rect x="899.59" y="316.6" width="2.5" height="10.4" fill="#00b050"/><rect x="903.61" y="316.6" width="2.5" height="1.2" fill="#f04628"/><rect x="907.63" y="308.7" width="2.5" height="9.7" fill="#00b050"/><rect x="911.65" y="302.4" width="2.5" height="5.6" fill="#00b050"/><rect x="915.66" y="302.4" width="2.5" height="11.2" fill="#f04628"/><rect x="919.68" y="313.6" width="2.5" height="18.6" fill="#f04628"/><rect x="923.7" y="332.5" width="2.5" height="5.4" fill="#f04628"/><rect x="927.72" y="318.5" width="2.5" height="19.4" fill="#00b050"/><rect x="931.74" y="317.9" width="2.5" height="0.9" fill="#00b050"/><rect x="935.75" y="313.1" width="2.5" height="4.1" fill="#00b050"/><rect x="939.77" y="293.8" width="2.5" height="18.9" fill="#00b050"/><rect x="943.79" y="293" width="2.5" height="0.8" fill="#00b050"/><rect x="947.81" y="292.7" width="2.5" height="10.1" fill="#f04628"/><rect x="951.83" y="303" width="2.5" height="5.8" fill="#f04628"/><rect x="955.84" y="308.8" width="2.5" height="16.8" fill="#f04628"/><rect x="959.86" y="325.6" width="2.5" height="20" fill="#f04628"/><rect x="963.88" y="343.7" width="2.5" height="1.9" fill="#00b050"/><rect x="967.9" y="342.8" width="2.5" height="0.8" fill="#00b050"/><rect x="971.92" y="329.5" width="2.5" height="12.2" fill="#00b050"/><rect x="975.93" y="329.5" width="2.5" height="19.3" fill="#f04628"/><rect x="979.95" y="334.2" width="2.5" height="14.6" fill="#00b050"/></g>
<path d="M143.9,513.4 L145.3,514.5 L146.8,513.2 L146.9,515.3 L145.4,516.3 L143.8,515.3 Z" fill="#1bb552"/>
<path d="M766.8,110.2 L768.5,108.3 L770.2,110.2" fill="none" stroke="#ff5a3a" stroke-width="0.9"/>
<defs><clipPath id="boxclip"><rect x="450.5" y="292.5" width="148.8" height="69.5"/><rect x="857.0" y="290.9" width="148.6" height="73.7"/></clipPath></defs>
<rect x="450.5" y="292.5" width="148.8" height="69.5" fill="#fdeed4"/>
<rect x="857.0" y="290.9" width="148.6" height="73.7" fill="#fdeed4"/>
<g clip-path="url(#boxclip)">
<line x1="50" y1="292.45" x2="1091" y2="292.45" stroke="#3c2c10" stroke-width="1.05"/>
<line x1="50" y1="364.8" x2="1091" y2="364.8" stroke="#3c2c10" stroke-width="1.05"/>
<path d="M50.1,518.4C54.92,518.18 69.02,517.58 79,517.1C88.98,516.62 99,515.97 110,515.5C121,515.03 135.33,514.62 145,514.3C154.67,513.98 160.33,513.78 168,513.6C175.67,513.42 182,513.37 191,513.2C200,513.03 211.67,512.87 222,512.6C232.33,512.33 243.67,512.05 253,511.6C262.33,511.15 267.55,510.72 278,509.9C288.45,509.08 303.1,508.05 315.7,506.7C328.3,505.35 340.97,503.47 353.6,501.8C366.23,500.13 378.88,498.35 391.5,496.7C404.12,495.05 419.55,493.07 429.3,491.9C439.05,490.73 444.83,490.47 450,489.7C455.17,488.93 456.85,488.22 460.3,487.3C463.75,486.38 467.25,485.28 470.7,484.2C474.15,483.12 477.57,482.17 481,480.8C484.43,479.43 487.87,477.55 491.3,476C494.73,474.45 498.15,472.93 501.6,471.5C505.05,470.07 508.55,468.67 512,467.4C515.45,466.13 518.87,464.97 522.3,463.9C525.73,462.83 529.15,461.97 532.6,461C536.05,460.03 539.55,459.05 543,458.1C546.45,457.15 549.87,456.28 553.3,455.3C556.73,454.32 559.75,453.42 563.6,452.2C567.45,450.98 572.27,449.63 576.4,448C580.53,446.37 584.38,444.4 588.4,442.4C592.42,440.4 596.82,438.07 600.5,436C604.18,433.93 607.17,431.95 610.5,430C613.83,428.05 617.15,425.98 620.5,424.3C623.85,422.62 627.35,421.3 630.6,419.9C633.85,418.5 635.65,417.92 640,415.9C644.35,413.88 650.48,411.12 656.7,407.8C662.92,404.48 670.42,399.85 677.3,396C684.18,392.15 691.12,388.03 698,384.7C704.88,381.37 711.72,379.38 718.6,376C725.48,372.62 732.42,368.05 739.3,364.4C746.18,360.75 753.02,357.53 759.9,354.1C766.78,350.67 773.72,346.62 780.6,343.8C787.48,340.98 794.32,339.52 801.2,337.2C808.08,334.88 815.02,332.65 821.9,329.9C828.78,327.15 836.65,323 842.5,320.7C848.35,318.4 851.42,317.07 857,316.1C862.58,315.13 868.83,315.03 876,314.9C883.17,314.77 892.67,315.3 900,315.3C907.33,315.3 913.87,315 920,314.9C926.13,314.8 930.35,314.7 936.8,314.7C943.25,314.7 951.37,314.65 958.7,314.9C966.03,315.15 977.12,315.98 980.8,316.2" fill="none" stroke="#3a2f1c" stroke-width="2.2"/>
<path d="M49.03,496V498.2M53.04,495.5V498.6M57.06,495V498.5M61.08,495.8V500.8M65.1,498V501M69.12,497V499M73.13,496.5V497.8M77.15,492V497M81.17,492V495M85.19,494.5V497.5M89.21,495.8V497.3M93.22,496V497.5M97.24,496.5V498.3M101.26,496.5V500.6M105.28,498.5V500.4M109.3,498.5V500.4M113.31,498.5V500.4M117.33,496.8V498.6M121.35,494.4V497.3M125.37,494.2V499.5M129.39,499.2V505.3M133.4,503.2V509.4M137.42,504.6V509.8M141.44,507.4V509.6M145.46,507V510.5M149.48,506.8V508.1M153.49,506.6V507.9M157.51,504.2V507.4M161.53,503.1V504.5M165.55,501.2V503.9M169.57,502.2V503.6M173.58,502.2V503.6M177.6,501.2V506.7M181.62,505.3V506.6M185.64,505.3V508.1M189.66,504.6V508.1M193.67,503.9V505.2M197.69,502.8V504.5M201.71,502.8V504.7M205.73,503.1V504.4M209.75,503.8V505.3M213.76,504.2V506.6M217.78,503.8V505.3M221.8,503.9V505.2M225.82,504.2V505.5M229.84,502.4V505M233.85,501.1V503.2M237.87,497.6V501.9M241.89,497.3V499.1M245.91,498.6V500M249.93,498.4V499.7M253.94,498.3V500.3M257.96,496.2V500.1M261.98,495.3V497M266,488.7V495.7M270.02,486.6V489.1M274.03,486.6V488.4M278.05,487.1V488.4M282.07,482.9V487.3M286.09,482.9V486.2M290.11,484V486.2M294.12,482.6V485.8M298.14,480.5V485.5M302.16,482.2V483.7M306.18,479.7V482.7M310.2,471.1V480.5M314.21,469V471.4M318.23,467.6V476.9M322.25,470V471.4M326.27,467.2V470.5M330.29,464.6V469M334.3,463.6V464.9M338.32,460.7V467.6M342.34,453.6V461.5M346.36,448.2V456.1M350.38,451.4V455.4M354.39,447.1V451.9M358.41,445.2V453.6M362.43,441.5V450.1M366.45,441.1V446.1M370.47,445V463.7M374.48,455.8V462.2M378.5,438.3V459.4M382.52,438.3V449.4M386.54,442.2V448.6M390.56,440.5V444.3M394.57,440.4V446.2M398.59,441.5V447.6M402.61,442.6V446.3M406.63,445.4V453.7M410.65,447.4V451.5M414.66,448.8V454M418.68,441.5V450.8M422.7,440.9V443.3M426.72,427.8V441.5M430.74,411V428.6M434.75,413.8V419.6M438.77,406.7V421.7M442.79,411V418.8M446.81,408.8V415.3M450.83,411.7V416.7M454.84,404.8V412.8M458.86,377.3V405.6M462.88,385.9V393.8M466.9,372.6V387.7M470.92,370.8V378.7M474.93,369.7V372.7M478.95,330.7V375.1M482.97,334.6V357.7M486.99,318.9V338.7M491.01,290.6V322.6M495.02,278.6V314.4M499.04,282.5V361.6M503.06,317.2V345.1M507.08,311.1V346.6M511.1,292.9V311.9M515.11,295V331.5M519.13,307.9V335.8M523.15,307.9V321.5M527.17,317.5V339.4M531.19,324.4V356.3M535.2,337.2V372.5M539.22,330.1V356.5M543.24,345V357.5M547.26,344.1V369.4M551.28,340.8V364.5M555.29,302.7V349.5M559.31,326.3V348.4M563.33,321.5V338.9M567.35,311.2V325.3M571.37,301.6V318.8M575.38,304.3V316.1M579.4,257.9V310.2M583.42,233.1V260.5M587.44,238.9V264.2M591.46,230.2V262.6M595.47,228.2V246.5M599.49,222V248.7M603.51,216.5V240.6M607.53,201.4V230.8M611.55,202.6V212.7M615.56,175.1V213.8M619.58,160V233.1M623.6,184.1V255.6M627.62,210.5V240.6M631.64,205.2V233.5M635.65,228.8V261M639.67,224V269.2M643.69,219.1V240.2M647.71,201.4V238.4M651.73,207.3V237M655.74,224V245M659.76,205.9V239.6M663.78,186.1V207.9M667.8,167.2V196.8M671.82,164.2V187.7M675.83,161.3V182.8M679.85,135V181.8M683.87,170.5V195.7M687.89,161.3V187.7M691.91,147.9V167.8M695.92,152.2V173.2M699.94,149V187.3M703.96,178V196.8M707.98,168.3V195.5M712,190.3V215M716.01,189.5V210.4M720.03,159.9V191.5M724.05,152.4V168.6M728.07,149.5V166.3M732.09,152.4V161.5M736.1,147.7V157.6M740.12,150.2V172.3M744.14,152.3V165.6M748.16,158.3V179.2M752.18,162V178.2M756.19,155.9V164.9M760.21,139.6V162.9M764.23,121.5V148.4M768.25,113.1V137.4M772.27,121.3V132.3M776.28,120.2V147.3M780.3,129.6V205.6M784.32,169.6V194.3M788.34,168.8V187.8M792.36,181.4V211.7M796.37,204.4V236.8M800.39,188.9V240.5M804.41,182.6V200.2M808.43,174.2V190.5M812.45,182.8V201.9M816.46,167.9V198.6M820.48,155.4V175.5M824.5,166.2V194.9M828.52,163.6V197.3M832.54,159.7V180.4M836.55,157.9V180.4M840.57,151.2V188.5M844.59,170V186.4M848.61,162.4V193.1M852.63,186.9V243.1M856.64,209V229.5M860.66,215.5V275.7M864.68,251V273.5M868.7,267.8V361.7M872.72,275.2V327M876.73,277.3V326.4M880.75,294V355M884.77,294V316M888.79,287V311.8M892.81,290.8V311M896.82,299.4V327.4M900.84,311V338.5M904.86,308V322M908.88,306.3V320.3M912.9,296.5V311M916.91,298.3V322.7M920.93,308.1V332.6M924.95,332.1V355.4M928.97,318.1V346.2M932.99,305V321.7M937,310.1V320.5M941.02,285.5V330.1M945.04,283.1V294.2M949.06,289.3V303.2M953.08,296.3V309.2M957.09,305.6V326M961.11,319.2V351.4M965.13,341.5V371.6M969.15,330.1V351.4M973.17,326.9V346.9M977.18,325.6V353.3M981.2,326.9V363" stroke="#6a5c40" stroke-width="1.1" fill="none"/><g stroke="#3a2e14" stroke-width="0.9"><rect x="47.78" y="496.6" width="2.5" height="0.8" fill="#e05422"/><rect x="51.79" y="496" width="2.5" height="2" fill="#e05422"/><rect x="55.81" y="496" width="2.5" height="2" fill="#34a040"/><rect x="59.83" y="496.2" width="2.5" height="4.1" fill="#e05422"/><rect x="63.85" y="498.2" width="2.5" height="2.1" fill="#34a040"/><rect x="67.87" y="497.6" width="2.5" height="0.8" fill="#e05422"/><rect x="71.88" y="496.9" width="2.5" height="0.8" fill="#34a040"/><rect x="75.9" y="492.4" width="2.5" height="4" fill="#34a040"/><rect x="79.92" y="492.7" width="2.5" height="1.4" fill="#e05422"/><rect x="83.94" y="494.8" width="2.5" height="2.4" fill="#e05422"/><rect x="87.96" y="496.2" width="2.5" height="0.8" fill="#34a040"/><rect x="91.97" y="496.4" width="2.5" height="0.8" fill="#e05422"/><rect x="95.99" y="496.9" width="2.5" height="1" fill="#34a040"/><rect x="100.01" y="496.9" width="2.5" height="3.4" fill="#e05422"/><rect x="104.03" y="498.9" width="2.5" height="1.1" fill="#34a040"/><rect x="108.05" y="498.9" width="2.5" height="1.1" fill="#e05422"/><rect x="112.06" y="498.9" width="2.5" height="1.1" fill="#34a040"/><rect x="116.08" y="497.2" width="2.5" height="1" fill="#34a040"/><rect x="120.1" y="494.8" width="2.5" height="2.1" fill="#34a040"/><rect x="124.12" y="494.6" width="2.5" height="4.5" fill="#e05422"/><rect x="128.14" y="499.5" width="2.5" height="4.1" fill="#e05422"/><rect x="132.15" y="503.5" width="2.5" height="1.1" fill="#e05422"/><rect x="136.17" y="505" width="2.5" height="3.8" fill="#e05422"/><rect x="140.19" y="508.4" width="2.5" height="0.8" fill="#e05422"/><rect x="144.21" y="507.4" width="2.5" height="2" fill="#34a040"/><rect x="148.23" y="507.2" width="2.5" height="0.8" fill="#34a040"/><rect x="152.24" y="507" width="2.5" height="0.8" fill="#34a040"/><rect x="156.26" y="504.6" width="2.5" height="2.4" fill="#34a040"/><rect x="160.28" y="503.5" width="2.5" height="0.8" fill="#34a040"/><rect x="164.3" y="502.2" width="2.5" height="1.3" fill="#34a040"/><rect x="168.32" y="502.6" width="2.5" height="0.8" fill="#e05422"/><rect x="172.33" y="502.6" width="2.5" height="0.8" fill="#e05422"/><rect x="176.35" y="503.2" width="2.5" height="2.8" fill="#e05422"/><rect x="180.37" y="505.7" width="2.5" height="0.8" fill="#e05422"/><rect x="184.39" y="505.7" width="2.5" height="2" fill="#e05422"/><rect x="188.41" y="505" width="2.5" height="2.7" fill="#34a040"/><rect x="192.42" y="504.3" width="2.5" height="0.8" fill="#34a040"/><rect x="196.44" y="503.2" width="2.5" height="0.9" fill="#34a040"/><rect x="200.46" y="503.2" width="2.5" height="1.1" fill="#e05422"/><rect x="204.48" y="503.5" width="2.5" height="0.8" fill="#34a040"/><rect x="208.5" y="504.2" width="2.5" height="0.8" fill="#e05422"/><rect x="212.51" y="504.6" width="2.5" height="0.8" fill="#e05422"/><rect x="216.53" y="504.2" width="2.5" height="0.8" fill="#34a040"/><rect x="220.55" y="504.3" width="2.5" height="0.8" fill="#e05422"/><rect x="224.57" y="504.6" width="2.5" height="0.8" fill="#e05422"/><rect x="228.59" y="502.8" width="2.5" height="1.8" fill="#34a040"/><rect x="232.6" y="501.5" width="2.5" height="1.3" fill="#34a040"/><rect x="236.62" y="498" width="2.5" height="3.5" fill="#34a040"/><rect x="240.64" y="497.7" width="2.5" height="1" fill="#e05422"/><rect x="244.66" y="499" width="2.5" height="0.8" fill="#e05422"/><rect x="248.68" y="498.8" width="2.5" height="0.8" fill="#34a040"/><rect x="252.69" y="498.7" width="2.5" height="1.2" fill="#e05422"/><rect x="256.71" y="496.6" width="2.5" height="3.1" fill="#34a040"/><rect x="260.73" y="495.7" width="2.5" height="0.9" fill="#34a040"/><rect x="264.75" y="489.1" width="2.5" height="6.2" fill="#34a040"/><rect x="268.77" y="487" width="2.5" height="1.7" fill="#34a040"/><rect x="272.78" y="487" width="2.5" height="1" fill="#e05422"/><rect x="276.8" y="487.5" width="2.5" height="0.8" fill="#e05422"/><rect x="280.82" y="483.3" width="2.5" height="3.6" fill="#34a040"/><rect x="284.84" y="483.3" width="2.5" height="2.5" fill="#e05422"/><rect x="288.86" y="484.4" width="2.5" height="1.4" fill="#34a040"/><rect x="292.87" y="483" width="2.5" height="0.8" fill="#34a040"/><rect x="296.89" y="482.8" width="2.5" height="0.8" fill="#34a040"/><rect x="300.91" y="482.6" width="2.5" height="0.8" fill="#e05422"/><rect x="304.93" y="480.1" width="2.5" height="2.2" fill="#34a040"/><rect x="308.95" y="471.5" width="2.5" height="8.6" fill="#34a040"/><rect x="312.96" y="469.4" width="2.5" height="1.6" fill="#34a040"/><rect x="316.98" y="469.4" width="2.5" height="0.8" fill="#e05422"/><rect x="321" y="470.4" width="2.5" height="0.8" fill="#e05422"/><rect x="325.02" y="467.6" width="2.5" height="2.5" fill="#34a040"/><rect x="329.04" y="465" width="2.5" height="1.9" fill="#34a040"/><rect x="333.05" y="464" width="2.5" height="0.8" fill="#34a040"/><rect x="337.07" y="461.1" width="2.5" height="2.2" fill="#34a040"/><rect x="341.09" y="454" width="2.5" height="7.1" fill="#34a040"/><rect x="345.11" y="453.3" width="2.5" height="0.8" fill="#e05422"/><rect x="349.13" y="451.8" width="2.5" height="1.5" fill="#34a040"/><rect x="353.14" y="447.5" width="2.5" height="4" fill="#34a040"/><rect x="357.16" y="447.4" width="2.5" height="0.8" fill="#e05422"/><rect x="361.18" y="444.7" width="2.5" height="3.6" fill="#34a040"/><rect x="365.2" y="444.7" width="2.5" height="0.8" fill="#e05422"/><rect x="369.22" y="445.4" width="2.5" height="12.6" fill="#e05422"/><rect x="373.23" y="458" width="2.5" height="0.8" fill="#34a040"/><rect x="377.25" y="441.6" width="2.5" height="16.7" fill="#34a040"/><rect x="381.27" y="441.8" width="2.5" height="1.8" fill="#e05422"/><rect x="385.29" y="443" width="2.5" height="0.8" fill="#34a040"/><rect x="389.31" y="440.9" width="2.5" height="2.4" fill="#34a040"/><rect x="393.32" y="440.8" width="2.5" height="5" fill="#e05422"/><rect x="397.34" y="443.5" width="2.5" height="1.9" fill="#34a040"/><rect x="401.36" y="443.8" width="2.5" height="2.1" fill="#e05422"/><rect x="405.38" y="445.9" width="2.5" height="1.4" fill="#e05422"/><rect x="409.4" y="447.8" width="2.5" height="1.4" fill="#e05422"/><rect x="413.41" y="449.2" width="2.5" height="1.4" fill="#e05422"/><rect x="417.43" y="442.6" width="2.5" height="7.8" fill="#34a040"/><rect x="421.45" y="441.3" width="2.5" height="1.6" fill="#34a040"/><rect x="425.47" y="428.2" width="2.5" height="12.9" fill="#34a040"/><rect x="429.49" y="417.4" width="2.5" height="10.8" fill="#34a040"/><rect x="433.5" y="416" width="2.5" height="1.4" fill="#34a040"/><rect x="437.52" y="414.3" width="2.5" height="1.7" fill="#34a040"/><rect x="441.54" y="412.4" width="2.5" height="2.2" fill="#34a040"/><rect x="445.56" y="412.4" width="2.5" height="1" fill="#e05422"/><rect x="449.58" y="412.8" width="2.5" height="0.8" fill="#34a040"/><rect x="453.59" y="405.2" width="2.5" height="7.2" fill="#34a040"/><rect x="457.61" y="389.5" width="2.5" height="15.7" fill="#34a040"/><rect x="461.63" y="387.3" width="2.5" height="2.2" fill="#34a040"/><rect x="465.65" y="373" width="2.5" height="14.3" fill="#34a040"/><rect x="469.67" y="371.5" width="2.5" height="1.5" fill="#34a040"/><rect x="473.68" y="370.1" width="2.5" height="2.2" fill="#34a040"/><rect x="477.7" y="357.6" width="2.5" height="12.5" fill="#34a040"/><rect x="481.72" y="337.3" width="2.5" height="20" fill="#34a040"/><rect x="485.74" y="322.2" width="2.5" height="15.1" fill="#34a040"/><rect x="489.76" y="294.4" width="2.5" height="27.8" fill="#34a040"/><rect x="493.77" y="292.9" width="2.5" height="1.1" fill="#34a040"/><rect x="497.79" y="292.9" width="2.5" height="41.5" fill="#e05422"/><rect x="501.81" y="330.8" width="2.5" height="3.6" fill="#34a040"/><rect x="505.83" y="311.5" width="2.5" height="19.3" fill="#34a040"/><rect x="509.85" y="301.5" width="2.5" height="10" fill="#34a040"/><rect x="513.86" y="301.5" width="2.5" height="17.1" fill="#e05422"/><rect x="517.88" y="318.4" width="2.5" height="1" fill="#e05422"/><rect x="521.9" y="317.9" width="2.5" height="1" fill="#34a040"/><rect x="525.92" y="317.9" width="2.5" height="11.5" fill="#e05422"/><rect x="529.94" y="329.2" width="2.5" height="26.7" fill="#e05422"/><rect x="533.95" y="340.7" width="2.5" height="15.1" fill="#34a040"/><rect x="537.97" y="340.7" width="2.5" height="4.5" fill="#e05422"/><rect x="541.99" y="345.4" width="2.5" height="4.6" fill="#e05422"/><rect x="546.01" y="350.3" width="2.5" height="6.9" fill="#e05422"/><rect x="550.03" y="341.2" width="2.5" height="16" fill="#34a040"/><rect x="554.04" y="331.4" width="2.5" height="9.5" fill="#34a040"/><rect x="558.06" y="331.4" width="2.5" height="6.4" fill="#e05422"/><rect x="562.08" y="323.4" width="2.5" height="15.1" fill="#34a040"/><rect x="566.1" y="311.6" width="2.5" height="11.8" fill="#34a040"/><rect x="570.12" y="309.9" width="2.5" height="1.1" fill="#34a040"/><rect x="574.13" y="307.7" width="2.5" height="0.9" fill="#34a040"/><rect x="578.15" y="258.3" width="2.5" height="49.4" fill="#34a040"/><rect x="582.17" y="239.3" width="2.5" height="18.5" fill="#34a040"/><rect x="586.19" y="239.3" width="2.5" height="16.3" fill="#e05422"/><rect x="590.21" y="242.4" width="2.5" height="13.6" fill="#34a040"/><rect x="594.22" y="235.2" width="2.5" height="7" fill="#34a040"/><rect x="598.24" y="233.4" width="2.5" height="1.5" fill="#34a040"/><rect x="602.26" y="230.4" width="2.5" height="2.4" fill="#34a040"/><rect x="606.28" y="202.8" width="2.5" height="27.6" fill="#34a040"/><rect x="610.3" y="203" width="2.5" height="2.2" fill="#e05422"/><rect x="614.31" y="179.4" width="2.5" height="25.8" fill="#34a040"/><rect x="618.33" y="179.4" width="2.5" height="5.1" fill="#e05422"/><rect x="622.35" y="184.5" width="2.5" height="50" fill="#e05422"/><rect x="626.37" y="229.4" width="2.5" height="4.8" fill="#34a040"/><rect x="630.39" y="229.5" width="2.5" height="3.6" fill="#e05422"/><rect x="634.4" y="233.6" width="2.5" height="17.3" fill="#e05422"/><rect x="638.42" y="228.3" width="2.5" height="22.6" fill="#34a040"/><rect x="642.44" y="228.6" width="2.5" height="9.4" fill="#e05422"/><rect x="646.46" y="213.5" width="2.5" height="24.5" fill="#34a040"/><rect x="650.48" y="213.5" width="2.5" height="21.3" fill="#e05422"/><rect x="654.49" y="226.7" width="2.5" height="8.1" fill="#34a040"/><rect x="658.51" y="206.3" width="2.5" height="19.9" fill="#34a040"/><rect x="662.53" y="188.8" width="2.5" height="17" fill="#34a040"/><rect x="666.55" y="169.4" width="2.5" height="19.4" fill="#34a040"/><rect x="670.57" y="164.6" width="2.5" height="4.3" fill="#34a040"/><rect x="674.58" y="164.6" width="2.5" height="4.8" fill="#e05422"/><rect x="678.6" y="169.4" width="2.5" height="3.8" fill="#e05422"/><rect x="682.62" y="173.2" width="2.5" height="0.8" fill="#e05422"/><rect x="686.64" y="164" width="2.5" height="9.7" fill="#34a040"/><rect x="690.66" y="164" width="2.5" height="1.4" fill="#e05422"/><rect x="694.67" y="159.4" width="2.5" height="5.7" fill="#34a040"/><rect x="698.69" y="159.4" width="2.5" height="27.5" fill="#e05422"/><rect x="702.71" y="186.9" width="2.5" height="0.8" fill="#e05422"/><rect x="706.73" y="188" width="2.5" height="3.8" fill="#e05422"/><rect x="710.75" y="192.4" width="2.5" height="13" fill="#e05422"/><rect x="714.76" y="191.3" width="2.5" height="14.1" fill="#34a040"/><rect x="718.78" y="168" width="2.5" height="23.1" fill="#34a040"/><rect x="722.8" y="157.4" width="2.5" height="10.8" fill="#34a040"/><rect x="726.82" y="155.1" width="2.5" height="1.9" fill="#34a040"/><rect x="730.84" y="154.8" width="2.5" height="1.1" fill="#e05422"/><rect x="734.85" y="156.1" width="2.5" height="1.1" fill="#e05422"/><rect x="738.87" y="156.4" width="2.5" height="0.8" fill="#34a040"/><rect x="742.89" y="156.8" width="2.5" height="3.3" fill="#e05422"/><rect x="746.91" y="160.4" width="2.5" height="14.2" fill="#e05422"/><rect x="750.93" y="164.5" width="2.5" height="10.1" fill="#34a040"/><rect x="754.94" y="159.8" width="2.5" height="4.7" fill="#34a040"/><rect x="758.96" y="147.3" width="2.5" height="12.4" fill="#34a040"/><rect x="762.98" y="124.5" width="2.5" height="22.8" fill="#34a040"/><rect x="767" y="124.5" width="2.5" height="5.8" fill="#e05422"/><rect x="771.02" y="122.6" width="2.5" height="7.7" fill="#34a040"/><rect x="775.03" y="122.8" width="2.5" height="10.5" fill="#e05422"/><rect x="779.05" y="133.5" width="2.5" height="41.4" fill="#e05422"/><rect x="783.07" y="171.2" width="2.5" height="3.7" fill="#34a040"/><rect x="787.09" y="171" width="2.5" height="12.5" fill="#e05422"/><rect x="791.11" y="183.5" width="2.5" height="27.8" fill="#e05422"/><rect x="795.12" y="207.5" width="2.5" height="8.1" fill="#e05422"/><rect x="799.14" y="197" width="2.5" height="18.6" fill="#34a040"/><rect x="803.16" y="183" width="2.5" height="13.5" fill="#34a040"/><rect x="807.18" y="183.2" width="2.5" height="4.1" fill="#e05422"/><rect x="811.2" y="188.1" width="2.5" height="10.1" fill="#e05422"/><rect x="815.21" y="171" width="2.5" height="27.2" fill="#34a040"/><rect x="819.23" y="170.6" width="2.5" height="0.8" fill="#e05422"/><rect x="823.25" y="170.9" width="2.5" height="14.3" fill="#e05422"/><rect x="827.27" y="170.6" width="2.5" height="14.6" fill="#34a040"/><rect x="831.29" y="170.9" width="2.5" height="5.6" fill="#e05422"/><rect x="835.3" y="164.8" width="2.5" height="12" fill="#34a040"/><rect x="839.32" y="164.6" width="2.5" height="17.8" fill="#e05422"/><rect x="843.34" y="170.3" width="2.5" height="12.1" fill="#34a040"/><rect x="847.36" y="170.3" width="2.5" height="17.1" fill="#e05422"/><rect x="851.38" y="187.3" width="2.5" height="37.6" fill="#e05422"/><rect x="855.39" y="224.6" width="2.5" height="0.8" fill="#e05422"/><rect x="859.41" y="225.7" width="2.5" height="31.7" fill="#e05422"/><rect x="863.43" y="257.7" width="2.5" height="10.5" fill="#e05422"/><rect x="867.45" y="268.2" width="2.5" height="35.6" fill="#e05422"/><rect x="871.47" y="292.9" width="2.5" height="10.7" fill="#34a040"/><rect x="875.48" y="292.9" width="2.5" height="33.1" fill="#e05422"/><rect x="879.5" y="299.6" width="2.5" height="25.5" fill="#34a040"/><rect x="883.52" y="299.6" width="2.5" height="9.4" fill="#e05422"/><rect x="887.54" y="302" width="2.5" height="7" fill="#34a040"/><rect x="891.56" y="301.6" width="2.5" height="1.3" fill="#e05422"/><rect x="895.57" y="303.2" width="2.5" height="23.8" fill="#e05422"/><rect x="899.59" y="316.6" width="2.5" height="10.4" fill="#34a040"/><rect x="903.61" y="316.6" width="2.5" height="1.2" fill="#e05422"/><rect x="907.63" y="308.7" width="2.5" height="9.7" fill="#34a040"/><rect x="911.65" y="302.4" width="2.5" height="5.6" fill="#34a040"/><rect x="915.66" y="302.4" width="2.5" height="11.2" fill="#e05422"/><rect x="919.68" y="313.6" width="2.5" height="18.6" fill="#e05422"/><rect x="923.7" y="332.5" width="2.5" height="5.4" fill="#e05422"/><rect x="927.72" y="318.5" width="2.5" height="19.4" fill="#34a040"/><rect x="931.74" y="317.9" width="2.5" height="0.9" fill="#34a040"/><rect x="935.75" y="313.1" width="2.5" height="4.1" fill="#34a040"/><rect x="939.77" y="293.8" width="2.5" height="18.9" fill="#34a040"/><rect x="943.79" y="293" width="2.5" height="0.8" fill="#34a040"/><rect x="947.81" y="292.7" width="2.5" height="10.1" fill="#e05422"/><rect x="951.83" y="303" width="2.5" height="5.8" fill="#e05422"/><rect x="955.84" y="308.8" width="2.5" height="16.8" fill="#e05422"/><rect x="959.86" y="325.6" width="2.5" height="20" fill="#e05422"/><rect x="963.88" y="343.7" width="2.5" height="1.9" fill="#34a040"/><rect x="967.9" y="342.8" width="2.5" height="0.8" fill="#34a040"/><rect x="971.92" y="329.5" width="2.5" height="12.2" fill="#34a040"/><rect x="975.93" y="329.5" width="2.5" height="19.3" fill="#e05422"/><rect x="979.95" y="334.2" width="2.5" height="14.6" fill="#34a040"/></g>
<path d="M50.1,510.4C55.15,509.82 68.17,508.07 80.4,506.9C92.63,505.73 110.23,503.83 123.5,503.4C136.77,502.97 148.75,504.1 160,504.3C171.25,504.5 180.67,504.6 191,504.6C201.33,504.6 213.4,504.52 222,504.3C230.6,504.08 236.27,503.67 242.6,503.3C248.93,502.93 254.12,502.68 260,502.1C265.88,501.52 271.77,500.7 277.9,499.8C284.03,498.9 290.5,497.85 296.8,496.7C303.1,495.55 309.38,494.48 315.7,492.9C322.02,491.32 328.38,489.18 334.7,487.2C341.02,485.22 347.3,482.8 353.6,481C359.9,479.2 366.18,478.05 372.5,476.4C378.82,474.75 385.18,472.67 391.5,471.1C397.82,469.53 405.37,468.1 410.4,467C415.43,465.9 418.55,465.45 421.7,464.5C424.85,463.55 426.13,462.72 429.3,461.3C432.47,459.88 436.92,457.63 440.7,456C444.48,454.37 448.73,452.9 452,451.5C455.27,450.1 457.18,449.47 460.3,447.6C463.42,445.73 468.07,442.18 470.7,440.3C473.33,438.42 473.53,438.63 476.1,436.3C478.67,433.97 482.75,429.8 486.1,426.3C489.45,422.8 492.85,418.63 496.2,415.3C499.55,411.97 502.87,409.32 506.2,406.3C509.53,403.28 512.85,399.88 516.2,397.2C519.55,394.52 522.95,392.03 526.3,390.2C529.65,388.37 532.97,387.37 536.3,386.2C539.63,385.03 542.97,384.37 546.3,383.2C549.63,382.03 552.95,380.7 556.3,379.2C559.65,377.7 563.05,376.05 566.4,374.2C569.75,372.35 573.4,370.62 576.4,368.1C579.4,365.58 581.72,362.1 584.4,359.1C587.08,356.1 589.82,353.1 592.5,350.1C595.18,347.1 597.83,344.28 600.5,341.1C603.17,337.92 606.17,334.1 608.5,331C610.83,327.9 612.47,325.28 614.5,322.5C616.53,319.72 617.87,316.93 620.7,314.3C623.53,311.67 627.92,309.03 631.5,306.7C635.08,304.37 638.62,302.73 642.2,300.3C645.78,297.87 649.42,295.03 653,292.1C656.58,289.17 660.13,285.98 663.7,282.7C667.27,279.42 670.82,275.92 674.4,272.4C677.98,268.88 681.62,265.08 685.2,261.6C688.78,258.12 692.32,254.18 695.9,251.5C699.48,248.82 703.12,247.32 706.7,245.5C710.28,243.68 713.82,242.75 717.4,240.6C720.98,238.45 724.62,235.18 728.2,232.6C731.78,230.02 735.33,227.42 738.9,225.1C742.47,222.78 746.02,220.85 749.6,218.7C753.18,216.55 756.82,214.72 760.4,212.2C763.98,209.68 768.23,205.82 771.1,203.6C773.97,201.38 775.08,199.97 777.6,198.9C780.12,197.83 782.98,197.38 786.2,197.2C789.42,197.02 792.93,197.8 796.9,197.8C800.87,197.8 805.52,197.7 810,197.2C814.48,196.7 818.8,195.77 823.8,194.8C828.8,193.83 836.4,192.13 840,191.4C843.6,190.67 843.6,190.6 845.4,190.4C847.2,190.2 849.02,189.97 850.8,190.2C852.58,190.43 854.32,191 856.1,191.8C857.88,192.6 859.7,193.73 861.5,195C863.3,196.27 865.1,197.87 866.9,199.4C868.7,200.93 870.52,202.42 872.3,204.2C874.08,205.98 875.82,208.13 877.6,210.1C879.38,212.07 881.2,214.12 883,216C884.8,217.88 886.6,219.6 888.4,221.4C890.2,223.2 892.02,225.1 893.8,226.8C895.58,228.5 897.32,230.08 899.1,231.6C900.88,233.12 902.68,234.65 904.5,235.9C906.32,237.15 908.08,237.82 910,239.1C911.92,240.38 913.48,241.6 916,243.6C918.52,245.6 921.92,248.85 925.1,251.1C928.28,253.35 931.77,255.43 935.1,257.1C938.43,258.77 942.08,259.93 945.1,261.1C948.12,262.27 950.35,262.52 953.2,264.1C956.05,265.68 959.37,268.58 962.2,270.6C965.03,272.62 967.1,274.27 970.2,276.2C973.3,278.13 979.03,281.2 980.8,282.2" fill="none" stroke="#f0601e" stroke-width="1.9"/>
</g>
<rect x="450.5" y="292.5" width="148.8" height="69.5" fill="none" stroke="#3b3325" stroke-width="1.4" rx="1"/>
<rect x="857.0" y="290.9" width="148.6" height="73.7" fill="none" stroke="#3b3325" stroke-width="1.4" rx="1"/>
</svg>
<svg x="50" y="560" width="1041" height="104" viewBox="50 560 1041 104" overflow="hidden"><rect x="47.73" y="641" width="2.6" height="16" fill="#0aaa45"/><rect x="51.74" y="642.7" width="2.6" height="14.3" fill="#f04628"/><rect x="55.76" y="643.9" width="2.6" height="13.1" fill="#0aaa45"/><rect x="59.78" y="643.2" width="2.6" height="13.8" fill="#f04628"/><rect x="63.8" y="647.6" width="2.6" height="9.4" fill="#0aaa45"/><rect x="67.82" y="648.9" width="2.6" height="8.1" fill="#0aaa45"/><rect x="71.83" y="647" width="2.6" height="10" fill="#0aaa45"/><rect x="75.85" y="633.6" width="2.6" height="23.4" fill="#0aaa45"/><rect x="79.87" y="643.9" width="2.6" height="13.1" fill="#f04628"/><rect x="83.89" y="645.3" width="2.6" height="11.7" fill="#f04628"/><rect x="87.91" y="650.9" width="2.6" height="6.1" fill="#0aaa45"/><rect x="91.92" y="648.7" width="2.6" height="8.3" fill="#f04628"/><rect x="95.94" y="652.8" width="2.6" height="4.2" fill="#0aaa45"/><rect x="99.96" y="647.1" width="2.6" height="9.9" fill="#f04628"/><rect x="103.98" y="650.9" width="2.6" height="6.1" fill="#0aaa45"/><rect x="108" y="647.5" width="2.6" height="9.5" fill="#f04628"/><rect x="112.01" y="650.1" width="2.6" height="6.9" fill="#0aaa45"/><rect x="116.03" y="651.4" width="2.6" height="5.6" fill="#0aaa45"/><rect x="120.05" y="647.1" width="2.6" height="9.9" fill="#0aaa45"/><rect x="124.07" y="642.7" width="2.6" height="14.3" fill="#f04628"/><rect x="128.09" y="638.5" width="2.6" height="18.5" fill="#f04628"/><rect x="132.1" y="633.4" width="2.6" height="23.6" fill="#f04628"/><rect x="136.12" y="648" width="2.6" height="9" fill="#f04628"/><rect x="140.14" y="646.6" width="2.6" height="10.4" fill="#f04628"/><rect x="144.16" y="648.3" width="2.6" height="8.7" fill="#0aaa45"/><rect x="148.18" y="648.3" width="2.6" height="8.7" fill="#0aaa45"/><rect x="152.19" y="652" width="2.6" height="5" fill="#0aaa45"/><rect x="156.21" y="648.9" width="2.6" height="8.1" fill="#0aaa45"/><rect x="160.23" y="648.6" width="2.6" height="8.4" fill="#0aaa45"/><rect x="164.25" y="648.6" width="2.6" height="8.4" fill="#0aaa45"/><rect x="168.27" y="650.2" width="2.6" height="6.8" fill="#f04628"/><rect x="172.28" y="651.8" width="2.6" height="5.2" fill="#f04628"/><rect x="176.3" y="639.3" width="2.6" height="17.7" fill="#f04628"/><rect x="180.32" y="651.4" width="2.6" height="5.6" fill="#0aaa45"/><rect x="184.34" y="650.4" width="2.6" height="6.6" fill="#f04628"/><rect x="188.36" y="649.4" width="2.6" height="7.6" fill="#0aaa45"/><rect x="192.37" y="649.6" width="2.6" height="7.4" fill="#0aaa45"/><rect x="196.39" y="651.8" width="2.6" height="5.2" fill="#0aaa45"/><rect x="200.41" y="651.1" width="2.6" height="5.9" fill="#f04628"/><rect x="204.43" y="652" width="2.6" height="5" fill="#f04628"/><rect x="208.45" y="647.1" width="2.6" height="9.9" fill="#f04628"/><rect x="212.46" y="649.2" width="2.6" height="7.8" fill="#f04628"/><rect x="216.48" y="653" width="2.6" height="4" fill="#0aaa45"/><rect x="220.5" y="651.4" width="2.6" height="5.6" fill="#f04628"/><rect x="224.52" y="652" width="2.6" height="5" fill="#0aaa45"/><rect x="228.54" y="649.4" width="2.6" height="7.6" fill="#0aaa45"/><rect x="232.55" y="650.1" width="2.6" height="6.9" fill="#0aaa45"/><rect x="236.57" y="649.4" width="2.6" height="7.6" fill="#0aaa45"/><rect x="240.59" y="649.4" width="2.6" height="7.6" fill="#f04628"/><rect x="244.61" y="652" width="2.6" height="5" fill="#f04628"/><rect x="248.63" y="651.1" width="2.6" height="5.9" fill="#0aaa45"/><rect x="252.64" y="650.4" width="2.6" height="6.6" fill="#f04628"/><rect x="256.66" y="650.1" width="2.6" height="6.9" fill="#0aaa45"/><rect x="260.68" y="648.1" width="2.6" height="8.9" fill="#0aaa45"/><rect x="264.7" y="626.9" width="2.6" height="30.1" fill="#0aaa45"/><rect x="268.72" y="629.8" width="2.6" height="27.2" fill="#0aaa45"/><rect x="272.73" y="649.1" width="2.6" height="7.9" fill="#f04628"/><rect x="276.75" y="649.2" width="2.6" height="7.8" fill="#0aaa45"/><rect x="280.77" y="636.3" width="2.6" height="20.7" fill="#0aaa45"/><rect x="284.79" y="642.2" width="2.6" height="14.8" fill="#f04628"/><rect x="288.81" y="640.2" width="2.6" height="16.8" fill="#0aaa45"/><rect x="292.82" y="646.1" width="2.6" height="10.9" fill="#0aaa45"/><rect x="296.84" y="647.7" width="2.6" height="9.3" fill="#f04628"/><rect x="300.86" y="644.1" width="2.6" height="12.9" fill="#0aaa45"/><rect x="304.88" y="642.2" width="2.6" height="14.8" fill="#0aaa45"/><rect x="308.9" y="626" width="2.6" height="31" fill="#0aaa45"/><rect x="312.91" y="625" width="2.6" height="32" fill="#0aaa45"/><rect x="316.93" y="632.9" width="2.6" height="24.1" fill="#f04628"/><rect x="320.95" y="641.9" width="2.6" height="15.1" fill="#0aaa45"/><rect x="324.97" y="641.2" width="2.6" height="15.8" fill="#0aaa45"/><rect x="328.99" y="633.1" width="2.6" height="23.9" fill="#0aaa45"/><rect x="333" y="641.3" width="2.6" height="15.7" fill="#0aaa45"/><rect x="337.02" y="648.9" width="2.6" height="8.1" fill="#0aaa45"/><rect x="341.04" y="635.3" width="2.6" height="21.7" fill="#0aaa45"/><rect x="345.06" y="619.2" width="2.6" height="37.8" fill="#0aaa45"/><rect x="349.08" y="637.4" width="2.6" height="19.6" fill="#0aaa45"/><rect x="353.09" y="638.1" width="2.6" height="18.9" fill="#0aaa45"/><rect x="357.11" y="637.1" width="2.6" height="19.9" fill="#f04628"/><rect x="361.13" y="628" width="2.6" height="29" fill="#0aaa45"/><rect x="365.15" y="637.1" width="2.6" height="19.9" fill="#f04628"/><rect x="369.17" y="610.5" width="2.6" height="46.5" fill="#f04628"/><rect x="373.18" y="636" width="2.6" height="21" fill="#f04628"/><rect x="377.2" y="633.2" width="2.6" height="23.8" fill="#0aaa45"/><rect x="381.22" y="629.5" width="2.6" height="27.5" fill="#f04628"/><rect x="385.24" y="644.1" width="2.6" height="12.9" fill="#0aaa45"/><rect x="389.26" y="645.8" width="2.6" height="11.2" fill="#0aaa45"/><rect x="393.27" y="645.3" width="2.6" height="11.7" fill="#f04628"/><rect x="397.29" y="648.2" width="2.6" height="8.8" fill="#0aaa45"/><rect x="401.31" y="645.1" width="2.6" height="11.9" fill="#f04628"/><rect x="405.33" y="634.2" width="2.6" height="22.8" fill="#f04628"/><rect x="409.35" y="643" width="2.6" height="14" fill="#f04628"/><rect x="413.36" y="640.4" width="2.6" height="16.6" fill="#f04628"/><rect x="417.38" y="651.6" width="2.6" height="5.4" fill="#0aaa45"/><rect x="421.4" y="642.1" width="2.6" height="14.9" fill="#0aaa45"/><rect x="425.42" y="622.6" width="2.6" height="34.4" fill="#0aaa45"/><rect x="429.44" y="597.2" width="2.6" height="59.8" fill="#0aaa45"/><rect x="433.45" y="642.1" width="2.6" height="14.9" fill="#0aaa45"/><rect x="437.47" y="626.4" width="2.6" height="30.6" fill="#0aaa45"/><rect x="441.49" y="645.1" width="2.6" height="11.9" fill="#0aaa45"/><rect x="445.51" y="641.3" width="2.6" height="15.7" fill="#f04628"/><rect x="449.53" y="645.7" width="2.6" height="11.3" fill="#0aaa45"/><rect x="453.54" y="645.3" width="2.6" height="11.7" fill="#0aaa45"/><rect x="457.56" y="644" width="2.6" height="13" fill="#0aaa45"/><rect x="461.58" y="642.8" width="2.6" height="14.2" fill="#0aaa45"/><rect x="465.6" y="626.8" width="2.6" height="30.2" fill="#0aaa45"/><rect x="469.62" y="629.1" width="2.6" height="27.9" fill="#0aaa45"/><rect x="473.63" y="643.4" width="2.6" height="13.6" fill="#0aaa45"/><rect x="477.65" y="606.6" width="2.6" height="50.4" fill="#0aaa45"/><rect x="481.67" y="617.5" width="2.6" height="39.5" fill="#0aaa45"/><rect x="485.69" y="620.3" width="2.6" height="36.7" fill="#0aaa45"/><rect x="489.71" y="617.6" width="2.6" height="39.4" fill="#0aaa45"/><rect x="493.72" y="620.1" width="2.6" height="36.9" fill="#0aaa45"/><rect x="497.74" y="587.1" width="2.6" height="69.9" fill="#f04628"/><rect x="501.76" y="620.1" width="2.6" height="36.9" fill="#0aaa45"/><rect x="505.78" y="629.3" width="2.6" height="27.7" fill="#0aaa45"/><rect x="509.8" y="631.3" width="2.6" height="25.7" fill="#0aaa45"/><rect x="513.81" y="626.6" width="2.6" height="30.4" fill="#f04628"/><rect x="517.83" y="639" width="2.6" height="18" fill="#f04628"/><rect x="521.85" y="638.7" width="2.6" height="18.3" fill="#0aaa45"/><rect x="525.87" y="631.3" width="2.6" height="25.7" fill="#f04628"/><rect x="529.89" y="620.1" width="2.6" height="36.9" fill="#f04628"/><rect x="533.9" y="615.3" width="2.6" height="41.7" fill="#0aaa45"/><rect x="537.92" y="634.1" width="2.6" height="22.9" fill="#f04628"/><rect x="541.94" y="633.3" width="2.6" height="23.7" fill="#f04628"/><rect x="545.96" y="620.1" width="2.6" height="36.9" fill="#f04628"/><rect x="549.98" y="628.1" width="2.6" height="28.9" fill="#0aaa45"/><rect x="553.99" y="600.1" width="2.6" height="56.9" fill="#0aaa45"/><rect x="558.01" y="637.9" width="2.6" height="19.1" fill="#f04628"/><rect x="562.03" y="637.9" width="2.6" height="19.1" fill="#0aaa45"/><rect x="566.05" y="636.7" width="2.6" height="20.3" fill="#0aaa45"/><rect x="570.07" y="632.4" width="2.6" height="24.6" fill="#0aaa45"/><rect x="574.08" y="641" width="2.6" height="16" fill="#0aaa45"/><rect x="578.1" y="623" width="2.6" height="34" fill="#0aaa45"/><rect x="582.12" y="621.5" width="2.6" height="35.5" fill="#0aaa45"/><rect x="586.14" y="633.9" width="2.6" height="23.1" fill="#f04628"/><rect x="590.16" y="635.2" width="2.6" height="21.8" fill="#0aaa45"/><rect x="594.17" y="637.9" width="2.6" height="19.1" fill="#0aaa45"/><rect x="598.19" y="639.9" width="2.6" height="17.1" fill="#0aaa45"/><rect x="602.21" y="637" width="2.6" height="20" fill="#0aaa45"/><rect x="606.23" y="635.2" width="2.6" height="21.8" fill="#0aaa45"/><rect x="610.25" y="641.9" width="2.6" height="15.1" fill="#f04628"/><rect x="614.26" y="636.2" width="2.6" height="20.8" fill="#0aaa45"/><rect x="618.28" y="619.8" width="2.6" height="37.2" fill="#f04628"/><rect x="622.3" y="607.2" width="2.6" height="49.8" fill="#f04628"/><rect x="626.32" y="629.3" width="2.6" height="27.7" fill="#0aaa45"/><rect x="630.34" y="637.3" width="2.6" height="19.7" fill="#f04628"/><rect x="634.35" y="628.4" width="2.6" height="28.6" fill="#f04628"/><rect x="638.37" y="635.6" width="2.6" height="21.4" fill="#0aaa45"/><rect x="642.39" y="641" width="2.6" height="16" fill="#f04628"/><rect x="646.41" y="638.2" width="2.6" height="18.8" fill="#0aaa45"/><rect x="650.43" y="639.3" width="2.6" height="17.7" fill="#f04628"/><rect x="654.44" y="639.3" width="2.6" height="17.7" fill="#0aaa45"/><rect x="658.46" y="642.5" width="2.6" height="14.5" fill="#0aaa45"/><rect x="662.48" y="640" width="2.6" height="17" fill="#0aaa45"/><rect x="666.5" y="637.7" width="2.6" height="19.3" fill="#0aaa45"/><rect x="670.52" y="639.4" width="2.6" height="17.6" fill="#0aaa45"/><rect x="674.53" y="639.8" width="2.6" height="17.2" fill="#f04628"/><rect x="678.55" y="634.7" width="2.6" height="22.3" fill="#f04628"/><rect x="682.57" y="638.1" width="2.6" height="18.9" fill="#f04628"/><rect x="686.59" y="640" width="2.6" height="17" fill="#0aaa45"/><rect x="690.61" y="640.2" width="2.6" height="16.8" fill="#f04628"/><rect x="694.62" y="644.2" width="2.6" height="12.8" fill="#0aaa45"/><rect x="698.64" y="644.2" width="2.6" height="12.8" fill="#f04628"/><rect x="702.66" y="640.2" width="2.6" height="16.8" fill="#f04628"/><rect x="706.68" y="643.4" width="2.6" height="13.6" fill="#f04628"/><rect x="710.7" y="635.6" width="2.6" height="21.4" fill="#f04628"/><rect x="714.71" y="640.2" width="2.6" height="16.8" fill="#0aaa45"/><rect x="718.73" y="646.1" width="2.6" height="10.9" fill="#0aaa45"/><rect x="722.75" y="648.2" width="2.6" height="8.8" fill="#0aaa45"/><rect x="726.77" y="647" width="2.6" height="10" fill="#0aaa45"/><rect x="730.79" y="651.1" width="2.6" height="5.9" fill="#f04628"/><rect x="734.8" y="650.3" width="2.6" height="6.7" fill="#f04628"/><rect x="738.82" y="651.3" width="2.6" height="5.7" fill="#0aaa45"/><rect x="742.84" y="651.1" width="2.6" height="5.9" fill="#f04628"/><rect x="746.86" y="646.1" width="2.6" height="10.9" fill="#f04628"/><rect x="750.88" y="651.3" width="2.6" height="5.7" fill="#0aaa45"/><rect x="754.89" y="652" width="2.6" height="5" fill="#0aaa45"/><rect x="758.91" y="649.9" width="2.6" height="7.1" fill="#0aaa45"/><rect x="762.93" y="639" width="2.6" height="18" fill="#0aaa45"/><rect x="766.95" y="637.3" width="2.6" height="19.7" fill="#f04628"/><rect x="770.97" y="649.7" width="2.6" height="7.3" fill="#0aaa45"/><rect x="774.98" y="638.5" width="2.6" height="18.5" fill="#f04628"/><rect x="779" y="641.5" width="2.6" height="15.5" fill="#f04628"/><rect x="783.02" y="641.3" width="2.6" height="15.7" fill="#0aaa45"/><rect x="787.04" y="644.8" width="2.6" height="12.2" fill="#f04628"/><rect x="791.06" y="637.9" width="2.6" height="19.1" fill="#f04628"/><rect x="795.07" y="625.3" width="2.6" height="31.7" fill="#f04628"/><rect x="799.09" y="640.2" width="2.6" height="16.8" fill="#0aaa45"/><rect x="803.11" y="643.8" width="2.6" height="13.2" fill="#0aaa45"/><rect x="807.13" y="644.2" width="2.6" height="12.8" fill="#f04628"/><rect x="811.15" y="643.8" width="2.6" height="13.2" fill="#f04628"/><rect x="815.16" y="644.8" width="2.6" height="12.2" fill="#0aaa45"/><rect x="819.18" y="645" width="2.6" height="12" fill="#f04628"/><rect x="823.2" y="640.2" width="2.6" height="16.8" fill="#f04628"/><rect x="827.22" y="648" width="2.6" height="9" fill="#0aaa45"/><rect x="831.24" y="646.4" width="2.6" height="10.6" fill="#f04628"/><rect x="835.25" y="644.7" width="2.6" height="12.3" fill="#0aaa45"/><rect x="839.27" y="642.1" width="2.6" height="14.9" fill="#f04628"/><rect x="843.29" y="642.5" width="2.6" height="14.5" fill="#0aaa45"/><rect x="847.31" y="639.1" width="2.6" height="17.9" fill="#f04628"/><rect x="851.33" y="620.2" width="2.6" height="36.8" fill="#f04628"/><rect x="855.34" y="646" width="2.6" height="11" fill="#f04628"/><rect x="859.36" y="620.2" width="2.6" height="36.8" fill="#f04628"/><rect x="863.38" y="635.7" width="2.6" height="21.3" fill="#f04628"/><rect x="867.4" y="576.7" width="2.6" height="80.3" fill="#f04628"/><rect x="871.42" y="615.9" width="2.6" height="41.1" fill="#0aaa45"/><rect x="875.43" y="622.2" width="2.6" height="34.8" fill="#f04628"/><rect x="879.45" y="629" width="2.6" height="28" fill="#0aaa45"/><rect x="883.47" y="638.1" width="2.6" height="18.9" fill="#f04628"/><rect x="887.49" y="635.5" width="2.6" height="21.5" fill="#0aaa45"/><rect x="891.51" y="640.3" width="2.6" height="16.7" fill="#f04628"/><rect x="895.52" y="631.2" width="2.6" height="25.8" fill="#f04628"/><rect x="899.54" y="638.6" width="2.6" height="18.4" fill="#0aaa45"/><rect x="903.56" y="640.3" width="2.6" height="16.7" fill="#f04628"/><rect x="907.58" y="642.2" width="2.6" height="14.8" fill="#0aaa45"/><rect x="911.6" y="641.9" width="2.6" height="15.1" fill="#0aaa45"/><rect x="915.61" y="638.1" width="2.6" height="18.9" fill="#f04628"/><rect x="919.63" y="635.5" width="2.6" height="21.5" fill="#f04628"/><rect x="923.65" y="618.3" width="2.6" height="38.7" fill="#f04628"/><rect x="927.67" y="615.4" width="2.6" height="41.6" fill="#0aaa45"/><rect x="931.69" y="627.4" width="2.6" height="29.6" fill="#0aaa45"/><rect x="935.7" y="648.4" width="2.6" height="8.6" fill="#0aaa45"/><rect x="939.72" y="626.7" width="2.6" height="30.3" fill="#0aaa45"/><rect x="943.74" y="632.1" width="2.6" height="24.9" fill="#0aaa45"/><rect x="947.76" y="633.2" width="2.6" height="23.8" fill="#f04628"/><rect x="951.78" y="648" width="2.6" height="9" fill="#f04628"/><rect x="955.79" y="628" width="2.6" height="29" fill="#f04628"/><rect x="959.81" y="624.8" width="2.6" height="32.2" fill="#f04628"/><rect x="963.83" y="611.3" width="2.6" height="45.7" fill="#0aaa45"/><rect x="967.85" y="633.2" width="2.6" height="23.8" fill="#0aaa45"/><rect x="971.87" y="638.6" width="2.6" height="18.4" fill="#0aaa45"/><rect x="975.88" y="628.7" width="2.6" height="28.3" fill="#f04628"/><rect x="979.9" y="634.2" width="2.6" height="22.8" fill="#0aaa45"/></svg>
<rect x="120.85" y="665" width="1" height="4.5" fill="#c8c8c8"/>
<text x="121.35" y="684.2" font-size="12" font-weight="normal" fill="#555" text-anchor="middle" textLength="40.5" lengthAdjust="spacingAndGlyphs">Sep '20</text>
<rect x="209.25" y="665" width="1" height="4.5" fill="#c8c8c8"/>
<text x="209.75" y="684.2" font-size="12" font-weight="normal" fill="#555" text-anchor="middle" textLength="38.8" lengthAdjust="spacingAndGlyphs">Oct '20</text>
<rect x="297.64" y="665" width="1" height="4.5" fill="#c8c8c8"/>
<text x="298.14" y="684.2" font-size="12" font-weight="normal" fill="#555" text-anchor="middle" textLength="42.3" lengthAdjust="spacingAndGlyphs">Nov '20</text>
<rect x="382.02" y="665" width="1" height="4.5" fill="#c8c8c8"/>
<text x="382.52" y="684.2" font-size="12" font-weight="normal" fill="#555" text-anchor="middle" textLength="41.8" lengthAdjust="spacingAndGlyphs">Dec '20</text>
<rect x="474.43" y="665" width="1" height="4.5" fill="#c8c8c8"/>
<text x="474.93" y="684.2" font-size="12" font-weight="normal" fill="#555" text-anchor="middle" textLength="36.6" lengthAdjust="spacingAndGlyphs">Jan '21</text>
<rect x="558.81" y="665" width="1" height="4.5" fill="#c8c8c8"/>
<text x="559.31" y="684.2" font-size="12" font-weight="normal" fill="#555" text-anchor="middle" textLength="40" lengthAdjust="spacingAndGlyphs">Feb '21</text>
<rect x="639.17" y="665" width="1" height="4.5" fill="#c8c8c8"/>
<text x="639.67" y="684.2" font-size="12" font-weight="normal" fill="#555" text-anchor="middle" textLength="40.9" lengthAdjust="spacingAndGlyphs">Mar '21</text>
<rect x="731.59" y="665" width="1" height="4.5" fill="#c8c8c8"/>
<text x="732.09" y="684.2" font-size="12" font-weight="normal" fill="#555" text-anchor="middle" textLength="38.7" lengthAdjust="spacingAndGlyphs">Apr '21</text>
<rect x="819.98" y="665" width="1" height="4.5" fill="#c8c8c8"/>
<text x="820.48" y="684.2" font-size="12" font-weight="normal" fill="#555" text-anchor="middle" textLength="41.5" lengthAdjust="spacingAndGlyphs">May '21</text>
<rect x="904.36" y="665" width="1" height="4.5" fill="#c8c8c8"/>
<text x="904.86" y="684.2" font-size="12" font-weight="normal" fill="#555" text-anchor="middle" textLength="37.8" lengthAdjust="spacingAndGlyphs">Jun '21</text>
<rect x="992.76" y="665" width="1" height="4.5" fill="#c8c8c8"/>
<text x="993.26" y="684.2" font-size="12" font-weight="normal" fill="#555" text-anchor="middle" textLength="34.1" lengthAdjust="spacingAndGlyphs">Jul '21</text>
<text x="1103.6" y="78.8" font-size="12" font-weight="normal" fill="#666" text-anchor="start" textLength="51.6" lengthAdjust="spacingAndGlyphs">70,000.00</text>
<text x="1103.6" y="115.05" font-size="12" font-weight="normal" fill="#666" text-anchor="start" textLength="51.6" lengthAdjust="spacingAndGlyphs">65,000.00</text>
<text x="1103.6" y="187.55" font-size="12" font-weight="normal" fill="#666" text-anchor="start" textLength="51.6" lengthAdjust="spacingAndGlyphs">55,000.00</text>
<text x="1103.6" y="260.05" font-size="12" font-weight="normal" fill="#666" text-anchor="start" textLength="51.6" lengthAdjust="spacingAndGlyphs">45,000.00</text>
<text x="1103.6" y="405.05" font-size="12" font-weight="normal" fill="#666" text-anchor="start" textLength="51.6" lengthAdjust="spacingAndGlyphs">25,000.00</text>
<text x="1103.6" y="477.55" font-size="12" font-weight="normal" fill="#666" text-anchor="start" textLength="51.6" lengthAdjust="spacingAndGlyphs">15,000.00</text>
<text x="1103.6" y="513.8" font-size="12" font-weight="normal" fill="#666" text-anchor="start" textLength="51.6" lengthAdjust="spacingAndGlyphs">10,000.00</text>
<text x="1103.6" y="550.05" font-size="12" font-weight="normal" fill="#666" text-anchor="start" textLength="45.1" lengthAdjust="spacingAndGlyphs">5,000.00</text>
<path d="M1091.5,147.5 L1097.5,137.5 L1158,137.5 Q1160,137.5 1160,139.5 L1160,155.5 Q1160,157.5 1158,157.5 L1097.5,157.5 Z" fill="#000"/><text x="1102.4" y="151.8" font-size="12.5" font-weight="bold" fill="#fff" text-anchor="start" textLength="52.7" lengthAdjust="spacingAndGlyphs">60,000.00</text>
<path d="M1091.5,219.6 L1097.5,209.6 L1158,209.6 Q1160,209.6 1160,211.6 L1160,227.6 Q1160,229.6 1158,229.6 L1097.5,229.6 Z" fill="#000"/><text x="1102.4" y="223.9" font-size="12.5" font-weight="bold" fill="#fff" text-anchor="start" textLength="52.7" lengthAdjust="spacingAndGlyphs">50,000.00</text>
<path d="M1091.5,292.3 L1097.5,282.3 L1158,282.3 Q1160,282.3 1160,284.3 L1160,300.3 Q1160,302.3 1158,302.3 L1097.5,302.3 Z" fill="#000"/><text x="1102.4" y="296.6" font-size="12.5" font-weight="bold" fill="#fff" text-anchor="start" textLength="52.7" lengthAdjust="spacingAndGlyphs">40,000.00</text>
<path d="M1091.5,282.3 L1097.5,272.3 L1158,272.3 Q1160,272.3 1160,274.3 L1160,290.3 Q1160,292.3 1158,292.3 L1097.5,292.3 Z" fill="#ee4626"/><text x="1102.4" y="286.6" font-size="12.5" font-weight="bold" fill="#fff" text-anchor="start" textLength="52.7" lengthAdjust="spacingAndGlyphs">41,353.93</text>
<path d="M1091.5,364.3 L1097.5,354.3 L1158,354.3 Q1160,354.3 1160,356.3 L1160,372.3 Q1160,374.3 1158,374.3 L1097.5,374.3 Z" fill="#000"/><text x="1102.4" y="368.6" font-size="12.5" font-weight="bold" fill="#fff" text-anchor="start" textLength="52.7" lengthAdjust="spacingAndGlyphs">30,000.00</text>
<path d="M1091.5,437 L1097.5,427 L1158,427 Q1160,427 1160,429 L1160,445 Q1160,447 1158,447 L1097.5,447 Z" fill="#000"/><text x="1102.4" y="441.3" font-size="12.5" font-weight="bold" fill="#fff" text-anchor="start" textLength="52.7" lengthAdjust="spacingAndGlyphs">20,000.00</text>
<path d="M1091.5,315.9 L1097.5,305.9 L1158,305.9 Q1160,305.9 1160,307.9 L1160,323.9 Q1160,325.9 1158,325.9 L1097.5,325.9 Z" fill="#000"/><text x="1102.4" y="320.2" font-size="12.5" font-weight="bold" fill="#fff" text-anchor="start" textLength="52.7" lengthAdjust="spacingAndGlyphs">36,683.54</text>
<path d="M1091.5,334.2 L1097.5,324.2 L1158,324.2 Q1160,324.2 1160,326.2 L1160,342.2 Q1160,344.2 1158,344.2 L1097.5,344.2 Z" fill="#0bab48"/><text x="1102.4" y="338.5" font-size="12.5" font-weight="bold" fill="#fff" text-anchor="start" textLength="52.7" lengthAdjust="spacingAndGlyphs">34,206.13</text>
<text x="1103.6" y="605.9" font-size="12" font-weight="normal" fill="#666" text-anchor="start" textLength="27" lengthAdjust="spacingAndGlyphs">200K</text>
<text x="1103.6" y="662" font-size="12" font-weight="normal" fill="#666" text-anchor="start">0K</text>
<path d="M1091.5,634 L1097.5,624 L1126,624 Q1128,624 1128,626 L1128,642 Q1128,644 1126,644 L1097.5,644 Z" fill="#0bab48"/>
<text x="1102.3" y="638.4" font-size="12.5" font-weight="bold" fill="#fff" text-anchor="start" textLength="20.5" lengthAdjust="spacingAndGlyphs">83K</text>
<defs><linearGradient id="chrome" x1="0" y1="0" x2="0" y2="1"><stop offset="0" stop-color="#ffffff"/><stop offset="0.5" stop-color="#f1f3f7"/><stop offset="1" stop-color="#d9dde7"/></linearGradient><linearGradient id="chrome2" x1="0" y1="0" x2="1" y2="1"><stop offset="0" stop-color="#ffffff"/><stop offset="0.6" stop-color="#e9ecf2"/><stop offset="1" stop-color="#c4c9d6"/></linearGradient></defs><path d="M835.1,639.7 A27,27 0 1 0 850.6,639.4" fill="none" stroke="#101010" stroke-width="8.4" transform="translate(0.9,1.2)"/><path d="M835.1,639.7 A27,27 0 1 0 850.6,639.4" fill="none" stroke="#7c8cc0" stroke-width="7.8"/><path d="M835.1,639.7 A27,27 0 1 0 850.6,639.4" fill="none" stroke="url(#chrome2)" stroke-width="6.4"/><path d="M826.5,684 A23.6,23.6 0 0 1 833.5,644.2" fill="none" stroke="#101010" stroke-width="1.8"/><rect x="839" y="634.6" width="8.8" height="7.4" fill="#d4a21c" stroke="#2a2a2a" stroke-width="0.9"/><path d="M841.2,640.6 L845.8,636.2" stroke="#fff3a0" stroke-width="1.6"/><path d="M856.9,665.2 A13.1,8.8 0 1 0 853.6,670.4 M831.2,665.2 L857.2,665.2 M843.6,641.5 L843.6,654.8 M843.6,672 L843.6,689" fill="none" stroke="#101010" stroke-width="7.2" transform="translate(0.8,1.1)"/><path d="M856.9,665.2 A13.1,8.8 0 1 0 853.6,670.4 M831.2,665.2 L857.2,665.2 M843.6,641.5 L843.6,654.8 M843.6,672 L843.6,689" fill="none" stroke="#7c8cc0" stroke-width="6.300000000000001"/><path d="M856.9,665.2 A13.1,8.8 0 1 0 853.6,670.4 M831.2,665.2 L857.2,665.2 M843.6,641.5 L843.6,654.8 M843.6,672 L843.6,689" fill="none" stroke="url(#chrome2)" stroke-width="5.4"/><text x="879.3" y="677" font-size="45.5" style="font-family:'DejaVu Sans',sans-serif" fill="#0a0a0a" stroke="#0a0a0a" stroke-width="1.2" textLength="279.5" lengthAdjust="spacingAndGlyphs" transform="translate(0.9,1.8)">ieconomy.io</text><text x="879.3" y="677" font-size="45.5" style="font-family:'DejaVu Sans',sans-serif" fill="url(#chrome)" stroke="#55618a" stroke-width="0.9" paint-order="stroke" textLength="279.5" lengthAdjust="spacingAndGlyphs">ieconomy.io</text>
</svg>
</body></html>
